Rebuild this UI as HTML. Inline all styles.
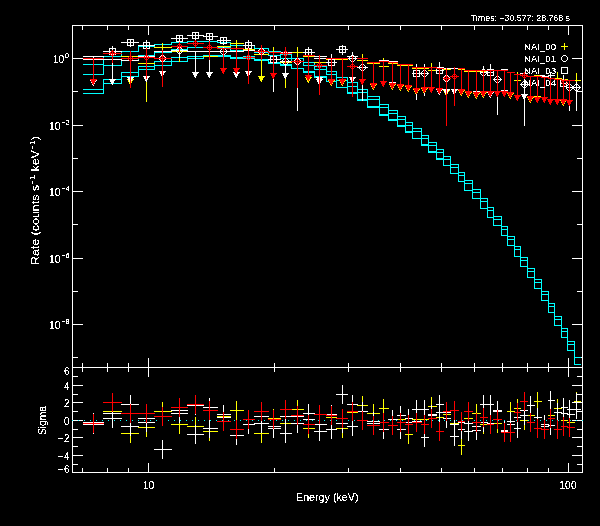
<!DOCTYPE html>
<html><head><meta charset="utf-8"><title>Spectrum</title>
<style>html,body{margin:0;padding:0;background:#000;}svg{display:block;}</style>
</head><body>
<svg width="600" height="526" viewBox="0 0 600 526" shape-rendering="crispEdges">
<rect width="600" height="526" fill="#000"/>
<g fill="#ffffff"><rect x="72" y="25" width="511" height="1"/><rect x="72" y="367" width="511" height="1"/><rect x="72" y="472" width="511" height="1"/><rect x="72" y="25" width="1" height="448"/><rect x="582" y="25" width="1" height="448"/><rect x="82" y="25" width="1" height="5"/><rect x="82" y="363" width="1" height="9"/><rect x="82" y="468" width="1" height="5"/><rect x="107" y="25" width="1" height="5"/><rect x="107" y="363" width="1" height="9"/><rect x="107" y="468" width="1" height="5"/><rect x="128" y="25" width="1" height="5"/><rect x="128" y="363" width="1" height="9"/><rect x="128" y="468" width="1" height="5"/><rect x="148" y="25" width="1" height="10"/><rect x="148" y="358" width="1" height="19"/><rect x="148" y="463" width="1" height="10"/><rect x="274" y="25" width="1" height="5"/><rect x="274" y="363" width="1" height="9"/><rect x="274" y="468" width="1" height="5"/><rect x="348" y="25" width="1" height="5"/><rect x="348" y="363" width="1" height="9"/><rect x="348" y="468" width="1" height="5"/><rect x="400" y="25" width="1" height="5"/><rect x="400" y="363" width="1" height="9"/><rect x="400" y="468" width="1" height="5"/><rect x="441" y="25" width="1" height="5"/><rect x="441" y="363" width="1" height="9"/><rect x="441" y="468" width="1" height="5"/><rect x="474" y="25" width="1" height="5"/><rect x="474" y="363" width="1" height="9"/><rect x="474" y="468" width="1" height="5"/><rect x="502" y="25" width="1" height="5"/><rect x="502" y="363" width="1" height="9"/><rect x="502" y="468" width="1" height="5"/><rect x="527" y="25" width="1" height="5"/><rect x="527" y="363" width="1" height="9"/><rect x="527" y="468" width="1" height="5"/><rect x="548" y="25" width="1" height="5"/><rect x="548" y="363" width="1" height="9"/><rect x="548" y="468" width="1" height="5"/><rect x="568" y="25" width="1" height="10"/><rect x="568" y="358" width="1" height="19"/><rect x="568" y="463" width="1" height="10"/><rect x="72" y="58" width="11" height="1"/><rect x="572" y="58" width="11" height="1"/><rect x="72" y="91" width="6" height="1"/><rect x="577" y="91" width="6" height="1"/><rect x="72" y="125" width="11" height="1"/><rect x="572" y="125" width="11" height="1"/><rect x="72" y="158" width="6" height="1"/><rect x="577" y="158" width="6" height="1"/><rect x="72" y="191" width="11" height="1"/><rect x="572" y="191" width="11" height="1"/><rect x="72" y="224" width="6" height="1"/><rect x="577" y="224" width="6" height="1"/><rect x="72" y="258" width="11" height="1"/><rect x="572" y="258" width="11" height="1"/><rect x="72" y="291" width="6" height="1"/><rect x="577" y="291" width="6" height="1"/><rect x="72" y="324" width="11" height="1"/><rect x="572" y="324" width="11" height="1"/><rect x="72" y="357" width="6" height="1"/><rect x="577" y="357" width="6" height="1"/><rect x="72" y="464" width="6" height="1"/><rect x="577" y="464" width="6" height="1"/><rect x="72" y="455" width="11" height="1"/><rect x="572" y="455" width="11" height="1"/><rect x="72" y="446" width="6" height="1"/><rect x="577" y="446" width="6" height="1"/><rect x="72" y="437" width="11" height="1"/><rect x="572" y="437" width="11" height="1"/><rect x="72" y="429" width="6" height="1"/><rect x="577" y="429" width="6" height="1"/><rect x="72" y="420" width="11" height="1"/><rect x="572" y="420" width="11" height="1"/><rect x="72" y="411" width="6" height="1"/><rect x="577" y="411" width="6" height="1"/><rect x="72" y="402" width="11" height="1"/><rect x="572" y="402" width="11" height="1"/><rect x="72" y="394" width="6" height="1"/><rect x="577" y="394" width="6" height="1"/><rect x="72" y="385" width="11" height="1"/><rect x="572" y="385" width="11" height="1"/><rect x="72" y="376" width="6" height="1"/><rect x="577" y="376" width="6" height="1"/></g>
<g fill="#00ffff"><rect x="83" y="64" width="21" height="1"/><rect x="103" y="56" width="1" height="9"/><rect x="103" y="56" width="19" height="1"/><rect x="121" y="51" width="1" height="6"/><rect x="121" y="51" width="18" height="1"/><rect x="138" y="46" width="1" height="6"/><rect x="138" y="46" width="17" height="1"/><rect x="154" y="44" width="1" height="3"/><rect x="154" y="44" width="18" height="1"/><rect x="171" y="42" width="1" height="3"/><rect x="171" y="42" width="17" height="1"/><rect x="187" y="41" width="1" height="2"/><rect x="187" y="41" width="17" height="1"/><rect x="203" y="41" width="1" height="1"/><rect x="203" y="41" width="15" height="1"/><rect x="217" y="41" width="1" height="2"/><rect x="217" y="42" width="14" height="1"/><rect x="230" y="42" width="1" height="4"/><rect x="230" y="45" width="14" height="1"/><rect x="243" y="45" width="1" height="1"/><rect x="243" y="45" width="12" height="1"/><rect x="254" y="45" width="1" height="4"/><rect x="254" y="48" width="15" height="1"/><rect x="268" y="48" width="1" height="4"/><rect x="268" y="51" width="13" height="1"/><rect x="280" y="51" width="1" height="4"/><rect x="280" y="54" width="12" height="1"/><rect x="291" y="54" width="1" height="5"/><rect x="291" y="58" width="13" height="1"/><rect x="303" y="58" width="1" height="5"/><rect x="303" y="62" width="12" height="1"/><rect x="314" y="62" width="1" height="5"/><rect x="314" y="66" width="13" height="1"/><rect x="326" y="66" width="1" height="6"/><rect x="326" y="71" width="11" height="1"/><rect x="336" y="71" width="1" height="7"/><rect x="336" y="77" width="12" height="1"/><rect x="347" y="77" width="1" height="6"/><rect x="347" y="82" width="11" height="1"/><rect x="357" y="82" width="1" height="8"/><rect x="357" y="89" width="11" height="1"/><rect x="367" y="89" width="1" height="8"/><rect x="367" y="96" width="13" height="1"/><rect x="379" y="96" width="1" height="9"/><rect x="379" y="104" width="10" height="1"/><rect x="388" y="104" width="1" height="7"/><rect x="388" y="110" width="10" height="1"/><rect x="397" y="110" width="1" height="7"/><rect x="397" y="116" width="9" height="1"/><rect x="405" y="116" width="1" height="7"/><rect x="405" y="122" width="8" height="1"/><rect x="412" y="122" width="1" height="7"/><rect x="412" y="128" width="10" height="1"/><rect x="421" y="128" width="1" height="8"/><rect x="421" y="135" width="8" height="1"/><rect x="428" y="135" width="1" height="8"/><rect x="428" y="142" width="9" height="1"/><rect x="436" y="142" width="1" height="8"/><rect x="436" y="149" width="8" height="1"/><rect x="443" y="149" width="1" height="8"/><rect x="443" y="156" width="8" height="1"/><rect x="450" y="156" width="1" height="9"/><rect x="450" y="164" width="9" height="1"/><rect x="458" y="164" width="1" height="9"/><rect x="458" y="172" width="7" height="1"/><rect x="464" y="172" width="1" height="9"/><rect x="464" y="180" width="9" height="1"/><rect x="472" y="180" width="1" height="10"/><rect x="472" y="189" width="9" height="1"/><rect x="480" y="189" width="1" height="10"/><rect x="480" y="198" width="8" height="1"/><rect x="487" y="198" width="1" height="10"/><rect x="487" y="207" width="7" height="1"/><rect x="493" y="207" width="1" height="10"/><rect x="493" y="216" width="9" height="1"/><rect x="501" y="216" width="1" height="11"/><rect x="501" y="226" width="7" height="1"/><rect x="507" y="226" width="1" height="11"/><rect x="507" y="236" width="8" height="1"/><rect x="514" y="236" width="1" height="11"/><rect x="514" y="246" width="7" height="1"/><rect x="520" y="246" width="1" height="12"/><rect x="520" y="257" width="8" height="1"/><rect x="527" y="257" width="1" height="12"/><rect x="527" y="268" width="8" height="1"/><rect x="534" y="268" width="1" height="12"/><rect x="534" y="279" width="8" height="1"/><rect x="541" y="279" width="1" height="13"/><rect x="541" y="291" width="8" height="1"/><rect x="548" y="291" width="1" height="13"/><rect x="548" y="303" width="7" height="1"/><rect x="554" y="303" width="1" height="14"/><rect x="554" y="316" width="8" height="1"/><rect x="561" y="316" width="1" height="13"/><rect x="561" y="328" width="7" height="1"/><rect x="567" y="328" width="1" height="14"/><rect x="567" y="341" width="8" height="1"/><rect x="574" y="341" width="1" height="17"/><rect x="574" y="357" width="7" height="1"/><rect x="83" y="74" width="21" height="1"/><rect x="103" y="65" width="1" height="10"/><rect x="103" y="65" width="19" height="1"/><rect x="121" y="60" width="1" height="6"/><rect x="121" y="60" width="18" height="1"/><rect x="138" y="55" width="1" height="6"/><rect x="138" y="55" width="17" height="1"/><rect x="154" y="52" width="1" height="4"/><rect x="154" y="52" width="18" height="1"/><rect x="171" y="49" width="1" height="4"/><rect x="171" y="49" width="17" height="1"/><rect x="187" y="47" width="1" height="3"/><rect x="187" y="47" width="17" height="1"/><rect x="203" y="47" width="1" height="1"/><rect x="203" y="47" width="15" height="1"/><rect x="217" y="47" width="1" height="1"/><rect x="217" y="47" width="14" height="1"/><rect x="230" y="47" width="1" height="4"/><rect x="230" y="50" width="14" height="1"/><rect x="243" y="49" width="1" height="2"/><rect x="243" y="49" width="12" height="1"/><rect x="254" y="49" width="1" height="4"/><rect x="254" y="52" width="15" height="1"/><rect x="268" y="52" width="1" height="4"/><rect x="268" y="55" width="13" height="1"/><rect x="280" y="55" width="1" height="4"/><rect x="280" y="58" width="12" height="1"/><rect x="291" y="58" width="1" height="4"/><rect x="291" y="61" width="13" height="1"/><rect x="303" y="61" width="1" height="5"/><rect x="303" y="65" width="12" height="1"/><rect x="314" y="65" width="1" height="5"/><rect x="314" y="69" width="13" height="1"/><rect x="326" y="69" width="1" height="6"/><rect x="326" y="74" width="11" height="1"/><rect x="336" y="74" width="1" height="7"/><rect x="336" y="80" width="12" height="1"/><rect x="347" y="80" width="1" height="7"/><rect x="347" y="86" width="11" height="1"/><rect x="357" y="86" width="1" height="7"/><rect x="357" y="92" width="11" height="1"/><rect x="367" y="92" width="1" height="8"/><rect x="367" y="99" width="13" height="1"/><rect x="379" y="99" width="1" height="9"/><rect x="379" y="107" width="10" height="1"/><rect x="388" y="107" width="1" height="7"/><rect x="388" y="113" width="10" height="1"/><rect x="397" y="113" width="1" height="7"/><rect x="397" y="119" width="9" height="1"/><rect x="405" y="119" width="1" height="7"/><rect x="405" y="125" width="8" height="1"/><rect x="412" y="125" width="1" height="7"/><rect x="412" y="131" width="10" height="1"/><rect x="421" y="131" width="1" height="8"/><rect x="421" y="138" width="8" height="1"/><rect x="428" y="138" width="1" height="8"/><rect x="428" y="145" width="9" height="1"/><rect x="436" y="145" width="1" height="8"/><rect x="436" y="152" width="8" height="1"/><rect x="443" y="152" width="1" height="8"/><rect x="443" y="159" width="8" height="1"/><rect x="450" y="159" width="1" height="9"/><rect x="450" y="167" width="9" height="1"/><rect x="458" y="167" width="1" height="9"/><rect x="458" y="175" width="7" height="1"/><rect x="464" y="175" width="1" height="9"/><rect x="464" y="183" width="9" height="1"/><rect x="472" y="183" width="1" height="10"/><rect x="472" y="192" width="9" height="1"/><rect x="480" y="192" width="1" height="10"/><rect x="480" y="201" width="8" height="1"/><rect x="487" y="201" width="1" height="10"/><rect x="487" y="210" width="7" height="1"/><rect x="493" y="210" width="1" height="10"/><rect x="493" y="219" width="9" height="1"/><rect x="501" y="219" width="1" height="11"/><rect x="501" y="229" width="7" height="1"/><rect x="507" y="229" width="1" height="11"/><rect x="507" y="239" width="8" height="1"/><rect x="514" y="239" width="1" height="11"/><rect x="514" y="249" width="7" height="1"/><rect x="520" y="249" width="1" height="12"/><rect x="520" y="260" width="8" height="1"/><rect x="527" y="260" width="1" height="12"/><rect x="527" y="271" width="8" height="1"/><rect x="534" y="271" width="1" height="12"/><rect x="534" y="282" width="8" height="1"/><rect x="541" y="282" width="1" height="13"/><rect x="541" y="294" width="8" height="1"/><rect x="548" y="294" width="1" height="13"/><rect x="548" y="306" width="7" height="1"/><rect x="554" y="306" width="1" height="14"/><rect x="554" y="319" width="8" height="1"/><rect x="561" y="319" width="1" height="13"/><rect x="561" y="331" width="7" height="1"/><rect x="567" y="331" width="1" height="14"/><rect x="567" y="344" width="8" height="1"/><rect x="574" y="344" width="1" height="14"/><rect x="574" y="357" width="7" height="1"/><rect x="83" y="89" width="21" height="1"/><rect x="103" y="79" width="1" height="11"/><rect x="103" y="79" width="19" height="1"/><rect x="121" y="72" width="1" height="8"/><rect x="121" y="72" width="18" height="1"/><rect x="138" y="66" width="1" height="7"/><rect x="138" y="66" width="17" height="1"/><rect x="154" y="61" width="1" height="6"/><rect x="154" y="61" width="18" height="1"/><rect x="171" y="57" width="1" height="5"/><rect x="171" y="57" width="17" height="1"/><rect x="187" y="56" width="1" height="2"/><rect x="187" y="56" width="17" height="1"/><rect x="203" y="55" width="1" height="2"/><rect x="203" y="55" width="15" height="1"/><rect x="217" y="55" width="1" height="1"/><rect x="217" y="55" width="14" height="1"/><rect x="230" y="55" width="1" height="3"/><rect x="230" y="57" width="14" height="1"/><rect x="243" y="56" width="1" height="2"/><rect x="243" y="56" width="12" height="1"/><rect x="254" y="56" width="1" height="4"/><rect x="254" y="59" width="15" height="1"/><rect x="268" y="59" width="1" height="4"/><rect x="268" y="62" width="13" height="1"/><rect x="280" y="62" width="1" height="3"/><rect x="280" y="64" width="12" height="1"/><rect x="291" y="64" width="1" height="5"/><rect x="291" y="68" width="13" height="1"/><rect x="303" y="68" width="1" height="4"/><rect x="303" y="71" width="12" height="1"/><rect x="314" y="71" width="1" height="6"/><rect x="314" y="76" width="13" height="1"/><rect x="326" y="76" width="1" height="6"/><rect x="326" y="81" width="11" height="1"/><rect x="336" y="81" width="1" height="7"/><rect x="336" y="87" width="12" height="1"/><rect x="347" y="87" width="1" height="6"/><rect x="347" y="92" width="11" height="1"/><rect x="357" y="92" width="1" height="8"/><rect x="357" y="99" width="11" height="1"/><rect x="367" y="99" width="1" height="8"/><rect x="367" y="106" width="13" height="1"/><rect x="379" y="106" width="1" height="9"/><rect x="379" y="114" width="10" height="1"/><rect x="388" y="114" width="1" height="6"/><rect x="388" y="119" width="10" height="1"/><rect x="397" y="119" width="1" height="7"/><rect x="397" y="125" width="9" height="1"/><rect x="405" y="125" width="1" height="7"/><rect x="405" y="131" width="8" height="1"/><rect x="412" y="131" width="1" height="8"/><rect x="412" y="138" width="10" height="1"/><rect x="421" y="138" width="1" height="7"/><rect x="421" y="144" width="8" height="1"/><rect x="428" y="144" width="1" height="8"/><rect x="428" y="151" width="9" height="1"/><rect x="436" y="151" width="1" height="8"/><rect x="436" y="158" width="8" height="1"/><rect x="443" y="158" width="1" height="8"/><rect x="443" y="165" width="8" height="1"/><rect x="450" y="165" width="1" height="9"/><rect x="450" y="173" width="9" height="1"/><rect x="458" y="173" width="1" height="9"/><rect x="458" y="181" width="7" height="1"/><rect x="464" y="181" width="1" height="10"/><rect x="464" y="190" width="9" height="1"/><rect x="472" y="190" width="1" height="9"/><rect x="472" y="198" width="9" height="1"/><rect x="480" y="198" width="1" height="11"/><rect x="480" y="208" width="8" height="1"/><rect x="487" y="208" width="1" height="10"/><rect x="487" y="217" width="7" height="1"/><rect x="493" y="217" width="1" height="9"/><rect x="493" y="225" width="9" height="1"/><rect x="501" y="225" width="1" height="11"/><rect x="501" y="235" width="7" height="1"/><rect x="507" y="235" width="1" height="11"/><rect x="507" y="245" width="8" height="1"/><rect x="514" y="245" width="1" height="12"/><rect x="514" y="256" width="7" height="1"/><rect x="520" y="256" width="1" height="11"/><rect x="520" y="266" width="8" height="1"/><rect x="527" y="266" width="1" height="12"/><rect x="527" y="277" width="8" height="1"/><rect x="534" y="277" width="1" height="12"/><rect x="534" y="288" width="8" height="1"/><rect x="541" y="288" width="1" height="13"/><rect x="541" y="300" width="8" height="1"/><rect x="548" y="300" width="1" height="13"/><rect x="548" y="312" width="7" height="1"/><rect x="554" y="312" width="1" height="14"/><rect x="554" y="325" width="8" height="1"/><rect x="561" y="325" width="1" height="13"/><rect x="561" y="337" width="7" height="1"/><rect x="567" y="337" width="1" height="14"/><rect x="567" y="350" width="8" height="1"/><rect x="574" y="350" width="1" height="15"/><rect x="574" y="364" width="7" height="1"/><rect x="83" y="93" width="21" height="1"/><rect x="103" y="83" width="1" height="11"/><rect x="103" y="83" width="19" height="1"/><rect x="121" y="76" width="1" height="8"/><rect x="121" y="76" width="18" height="1"/><rect x="138" y="69" width="1" height="8"/><rect x="138" y="69" width="17" height="1"/><rect x="154" y="65" width="1" height="5"/><rect x="154" y="65" width="18" height="1"/><rect x="171" y="61" width="1" height="5"/><rect x="171" y="61" width="17" height="1"/><rect x="187" y="58" width="1" height="4"/><rect x="187" y="58" width="17" height="1"/><rect x="203" y="56" width="1" height="3"/><rect x="203" y="56" width="15" height="1"/><rect x="217" y="56" width="1" height="1"/><rect x="217" y="56" width="14" height="1"/><rect x="230" y="56" width="1" height="3"/><rect x="230" y="58" width="14" height="1"/><rect x="243" y="58" width="1" height="1"/><rect x="243" y="58" width="12" height="1"/><rect x="254" y="58" width="1" height="3"/><rect x="254" y="60" width="15" height="1"/><rect x="268" y="60" width="1" height="4"/><rect x="268" y="63" width="13" height="1"/><rect x="280" y="63" width="1" height="3"/><rect x="280" y="65" width="12" height="1"/><rect x="291" y="65" width="1" height="4"/><rect x="291" y="68" width="13" height="1"/><rect x="303" y="68" width="1" height="5"/><rect x="303" y="72" width="12" height="1"/><rect x="314" y="72" width="1" height="6"/><rect x="314" y="77" width="13" height="1"/><rect x="326" y="77" width="1" height="5"/><rect x="326" y="81" width="11" height="1"/><rect x="336" y="81" width="1" height="7"/><rect x="336" y="87" width="12" height="1"/><rect x="347" y="87" width="1" height="7"/><rect x="347" y="93" width="11" height="1"/><rect x="357" y="93" width="1" height="8"/><rect x="357" y="100" width="11" height="1"/><rect x="367" y="100" width="1" height="8"/><rect x="367" y="107" width="13" height="1"/><rect x="379" y="107" width="1" height="9"/><rect x="379" y="115" width="10" height="1"/><rect x="388" y="115" width="1" height="6"/><rect x="388" y="120" width="10" height="1"/><rect x="397" y="120" width="1" height="7"/><rect x="397" y="126" width="9" height="1"/><rect x="405" y="126" width="1" height="7"/><rect x="405" y="132" width="8" height="1"/><rect x="412" y="132" width="1" height="7"/><rect x="412" y="138" width="10" height="1"/><rect x="421" y="138" width="1" height="8"/><rect x="421" y="145" width="8" height="1"/><rect x="428" y="145" width="1" height="8"/><rect x="428" y="152" width="9" height="1"/><rect x="436" y="152" width="1" height="8"/><rect x="436" y="159" width="8" height="1"/><rect x="443" y="159" width="1" height="7"/><rect x="443" y="165" width="8" height="1"/><rect x="450" y="165" width="1" height="9"/><rect x="450" y="173" width="9" height="1"/><rect x="458" y="173" width="1" height="9"/><rect x="458" y="181" width="7" height="1"/><rect x="464" y="181" width="1" height="10"/><rect x="464" y="190" width="9" height="1"/><rect x="472" y="190" width="1" height="9"/><rect x="472" y="198" width="9" height="1"/><rect x="480" y="198" width="1" height="11"/><rect x="480" y="208" width="8" height="1"/><rect x="487" y="208" width="1" height="10"/><rect x="487" y="217" width="7" height="1"/><rect x="493" y="217" width="1" height="9"/><rect x="493" y="225" width="9" height="1"/><rect x="501" y="225" width="1" height="11"/><rect x="501" y="235" width="7" height="1"/><rect x="507" y="235" width="1" height="11"/><rect x="507" y="245" width="8" height="1"/><rect x="514" y="245" width="1" height="12"/><rect x="514" y="256" width="7" height="1"/><rect x="520" y="256" width="1" height="11"/><rect x="520" y="266" width="8" height="1"/><rect x="527" y="266" width="1" height="12"/><rect x="527" y="277" width="8" height="1"/><rect x="534" y="277" width="1" height="12"/><rect x="534" y="288" width="8" height="1"/><rect x="541" y="288" width="1" height="13"/><rect x="541" y="300" width="8" height="1"/><rect x="548" y="300" width="1" height="13"/><rect x="548" y="312" width="7" height="1"/><rect x="554" y="312" width="1" height="14"/><rect x="554" y="325" width="8" height="1"/><rect x="561" y="325" width="1" height="13"/><rect x="561" y="337" width="7" height="1"/><rect x="567" y="337" width="1" height="14"/><rect x="567" y="350" width="8" height="1"/><rect x="574" y="350" width="1" height="15"/><rect x="574" y="364" width="7" height="1"/></g>
<g fill="#ffff00"><rect x="121" y="56" width="18" height="1"/><rect x="130" y="56" width="1" height="29"/><rect x="127" y="79" width="7" height="1"/><rect x="128" y="80" width="5" height="1"/><rect x="128" y="81" width="4" height="1"/><rect x="129" y="82" width="3" height="1"/><rect x="129" y="83" width="2" height="1"/><rect x="130" y="84" width="1" height="1"/><rect x="138" y="63" width="17" height="1"/><rect x="146" y="50" width="1" height="52"/><rect x="154" y="47" width="18" height="1"/><rect x="162" y="43" width="1" height="11"/><rect x="171" y="51" width="17" height="1"/><rect x="179" y="45" width="1" height="17"/><rect x="187" y="51" width="17" height="1"/><rect x="195" y="51" width="1" height="27"/><rect x="192" y="72" width="7" height="1"/><rect x="193" y="73" width="5" height="1"/><rect x="193" y="74" width="4" height="1"/><rect x="194" y="75" width="3" height="1"/><rect x="194" y="76" width="2" height="1"/><rect x="195" y="77" width="1" height="1"/><rect x="203" y="56" width="15" height="1"/><rect x="209" y="53" width="1" height="7"/><rect x="217" y="46" width="14" height="1"/><rect x="223" y="46" width="1" height="28"/><rect x="220" y="68" width="7" height="1"/><rect x="221" y="69" width="5" height="1"/><rect x="221" y="70" width="4" height="1"/><rect x="222" y="71" width="3" height="1"/><rect x="222" y="72" width="2" height="1"/><rect x="223" y="73" width="1" height="1"/><rect x="230" y="43" width="14" height="1"/><rect x="236" y="40" width="1" height="9"/><rect x="243" y="49" width="12" height="1"/><rect x="248" y="49" width="1" height="28"/><rect x="245" y="71" width="7" height="1"/><rect x="246" y="72" width="5" height="1"/><rect x="246" y="73" width="4" height="1"/><rect x="247" y="74" width="3" height="1"/><rect x="247" y="75" width="2" height="1"/><rect x="248" y="76" width="1" height="1"/><rect x="254" y="54" width="15" height="1"/><rect x="261" y="54" width="1" height="28"/><rect x="258" y="76" width="7" height="1"/><rect x="259" y="77" width="5" height="1"/><rect x="259" y="78" width="4" height="1"/><rect x="260" y="79" width="3" height="1"/><rect x="260" y="80" width="2" height="1"/><rect x="261" y="81" width="1" height="1"/><rect x="268" y="52" width="13" height="1"/><rect x="273" y="47" width="1" height="11"/><rect x="280" y="62" width="12" height="1"/><rect x="285" y="50" width="1" height="38"/><rect x="291" y="52" width="13" height="1"/><rect x="297" y="47" width="1" height="11"/><rect x="303" y="56" width="12" height="1"/><rect x="308" y="56" width="1" height="27"/><rect x="305" y="77" width="7" height="1"/><rect x="306" y="78" width="5" height="1"/><rect x="306" y="79" width="4" height="1"/><rect x="307" y="80" width="3" height="1"/><rect x="307" y="81" width="2" height="1"/><rect x="308" y="82" width="1" height="1"/><rect x="314" y="62" width="13" height="1"/><rect x="319" y="58" width="1" height="9"/><rect x="326" y="59" width="11" height="1"/><rect x="331" y="59" width="1" height="27"/><rect x="328" y="80" width="7" height="1"/><rect x="329" y="81" width="5" height="1"/><rect x="329" y="82" width="4" height="1"/><rect x="330" y="83" width="3" height="1"/><rect x="330" y="84" width="2" height="1"/><rect x="331" y="85" width="1" height="1"/><rect x="336" y="59" width="12" height="1"/><rect x="342" y="59" width="1" height="27"/><rect x="339" y="80" width="7" height="1"/><rect x="340" y="81" width="5" height="1"/><rect x="340" y="82" width="4" height="1"/><rect x="341" y="83" width="3" height="1"/><rect x="341" y="84" width="2" height="1"/><rect x="342" y="85" width="1" height="1"/><rect x="357" y="60" width="11" height="1"/><rect x="362" y="54" width="1" height="13"/><rect x="367" y="63" width="13" height="1"/><rect x="373" y="63" width="1" height="27"/><rect x="370" y="84" width="7" height="1"/><rect x="371" y="85" width="5" height="1"/><rect x="371" y="86" width="4" height="1"/><rect x="372" y="87" width="3" height="1"/><rect x="372" y="88" width="2" height="1"/><rect x="373" y="89" width="1" height="1"/><rect x="379" y="66" width="10" height="1"/><rect x="383" y="58" width="1" height="18"/><rect x="388" y="63" width="10" height="1"/><rect x="392" y="63" width="1" height="27"/><rect x="389" y="84" width="7" height="1"/><rect x="390" y="85" width="5" height="1"/><rect x="390" y="86" width="4" height="1"/><rect x="391" y="87" width="3" height="1"/><rect x="391" y="88" width="2" height="1"/><rect x="392" y="89" width="1" height="1"/><rect x="397" y="65" width="9" height="1"/><rect x="400" y="65" width="1" height="26"/><rect x="397" y="85" width="7" height="1"/><rect x="398" y="86" width="5" height="1"/><rect x="398" y="87" width="4" height="1"/><rect x="399" y="88" width="3" height="1"/><rect x="399" y="89" width="2" height="1"/><rect x="400" y="90" width="1" height="1"/><rect x="405" y="65" width="8" height="1"/><rect x="408" y="65" width="1" height="27"/><rect x="405" y="86" width="7" height="1"/><rect x="406" y="87" width="5" height="1"/><rect x="406" y="88" width="4" height="1"/><rect x="407" y="89" width="3" height="1"/><rect x="407" y="90" width="2" height="1"/><rect x="408" y="91" width="1" height="1"/><rect x="412" y="68" width="10" height="1"/><rect x="416" y="68" width="1" height="27"/><rect x="413" y="89" width="7" height="1"/><rect x="414" y="90" width="5" height="1"/><rect x="414" y="91" width="4" height="1"/><rect x="415" y="92" width="3" height="1"/><rect x="415" y="93" width="2" height="1"/><rect x="416" y="94" width="1" height="1"/><rect x="421" y="68" width="8" height="1"/><rect x="424" y="68" width="1" height="26"/><rect x="421" y="88" width="7" height="1"/><rect x="422" y="89" width="5" height="1"/><rect x="422" y="90" width="4" height="1"/><rect x="423" y="91" width="3" height="1"/><rect x="423" y="92" width="2" height="1"/><rect x="424" y="93" width="1" height="1"/><rect x="428" y="70" width="9" height="1"/><rect x="431" y="63" width="1" height="16"/><rect x="443" y="69" width="8" height="1"/><rect x="446" y="69" width="1" height="27"/><rect x="443" y="90" width="7" height="1"/><rect x="444" y="91" width="5" height="1"/><rect x="444" y="92" width="4" height="1"/><rect x="445" y="93" width="3" height="1"/><rect x="445" y="94" width="2" height="1"/><rect x="446" y="95" width="1" height="1"/><rect x="458" y="69" width="7" height="1"/><rect x="461" y="69" width="1" height="27"/><rect x="458" y="90" width="7" height="1"/><rect x="459" y="91" width="5" height="1"/><rect x="459" y="92" width="4" height="1"/><rect x="460" y="93" width="3" height="1"/><rect x="460" y="94" width="2" height="1"/><rect x="461" y="95" width="1" height="1"/><rect x="464" y="71" width="9" height="1"/><rect x="468" y="71" width="1" height="27"/><rect x="465" y="92" width="7" height="1"/><rect x="466" y="93" width="5" height="1"/><rect x="466" y="94" width="4" height="1"/><rect x="467" y="95" width="3" height="1"/><rect x="467" y="96" width="2" height="1"/><rect x="468" y="97" width="1" height="1"/><rect x="472" y="71" width="9" height="1"/><rect x="476" y="71" width="1" height="28"/><rect x="473" y="93" width="7" height="1"/><rect x="474" y="94" width="5" height="1"/><rect x="474" y="95" width="4" height="1"/><rect x="475" y="96" width="3" height="1"/><rect x="475" y="97" width="2" height="1"/><rect x="476" y="98" width="1" height="1"/><rect x="480" y="71" width="8" height="1"/><rect x="483" y="71" width="1" height="27"/><rect x="480" y="92" width="7" height="1"/><rect x="481" y="93" width="5" height="1"/><rect x="481" y="94" width="4" height="1"/><rect x="482" y="95" width="3" height="1"/><rect x="482" y="96" width="2" height="1"/><rect x="483" y="97" width="1" height="1"/><rect x="507" y="72" width="8" height="1"/><rect x="510" y="72" width="1" height="27"/><rect x="507" y="93" width="7" height="1"/><rect x="508" y="94" width="5" height="1"/><rect x="508" y="95" width="4" height="1"/><rect x="509" y="96" width="3" height="1"/><rect x="509" y="97" width="2" height="1"/><rect x="510" y="98" width="1" height="1"/><rect x="514" y="80" width="7" height="1"/><rect x="517" y="72" width="1" height="19"/><rect x="527" y="76" width="8" height="1"/><rect x="530" y="76" width="1" height="27"/><rect x="527" y="97" width="7" height="1"/><rect x="528" y="98" width="5" height="1"/><rect x="528" y="99" width="4" height="1"/><rect x="529" y="100" width="3" height="1"/><rect x="529" y="101" width="2" height="1"/><rect x="530" y="102" width="1" height="1"/><rect x="534" y="75" width="8" height="1"/><rect x="537" y="75" width="1" height="27"/><rect x="534" y="96" width="7" height="1"/><rect x="535" y="97" width="5" height="1"/><rect x="535" y="98" width="4" height="1"/><rect x="536" y="99" width="3" height="1"/><rect x="536" y="100" width="2" height="1"/><rect x="537" y="101" width="1" height="1"/><rect x="554" y="78" width="8" height="1"/><rect x="557" y="72" width="1" height="15"/><rect x="561" y="79" width="7" height="1"/><rect x="563" y="79" width="1" height="27"/><rect x="560" y="100" width="7" height="1"/><rect x="561" y="101" width="5" height="1"/><rect x="561" y="102" width="4" height="1"/><rect x="562" y="103" width="3" height="1"/><rect x="562" y="104" width="2" height="1"/><rect x="563" y="105" width="1" height="1"/><rect x="574" y="80" width="7" height="1"/><rect x="576" y="73" width="1" height="14"/></g>
<g fill="#ffffff"><rect x="83" y="56" width="21" height="1"/><rect x="93" y="56" width="1" height="30"/><rect x="90" y="80" width="7" height="1"/><rect x="91" y="81" width="5" height="1"/><rect x="91" y="82" width="4" height="1"/><rect x="92" y="83" width="3" height="1"/><rect x="92" y="84" width="2" height="1"/><rect x="93" y="85" width="1" height="1"/><rect x="103" y="59" width="19" height="1"/><rect x="112" y="59" width="1" height="26"/><rect x="109" y="79" width="7" height="1"/><rect x="110" y="80" width="5" height="1"/><rect x="110" y="81" width="4" height="1"/><rect x="111" y="82" width="3" height="1"/><rect x="111" y="83" width="2" height="1"/><rect x="112" y="84" width="1" height="1"/><rect x="121" y="60" width="18" height="1"/><rect x="130" y="60" width="1" height="23"/><rect x="127" y="77" width="7" height="1"/><rect x="128" y="78" width="5" height="1"/><rect x="128" y="79" width="4" height="1"/><rect x="129" y="80" width="3" height="1"/><rect x="129" y="81" width="2" height="1"/><rect x="130" y="82" width="1" height="1"/><rect x="138" y="56" width="17" height="1"/><rect x="146" y="56" width="1" height="26"/><rect x="143" y="76" width="7" height="1"/><rect x="144" y="77" width="5" height="1"/><rect x="144" y="78" width="4" height="1"/><rect x="145" y="79" width="3" height="1"/><rect x="145" y="80" width="2" height="1"/><rect x="146" y="81" width="1" height="1"/><rect x="154" y="58" width="18" height="1"/><rect x="162" y="53" width="1" height="14"/><g fill="#ffffff"><rect x="161" y="55" width="3" height="1"/><rect x="160" y="56" width="1" height="1"/><rect x="164" y="56" width="1" height="1"/><rect x="159" y="57" width="1" height="1"/><rect x="165" y="57" width="1" height="1"/><rect x="159" y="58" width="1" height="1"/><rect x="165" y="58" width="1" height="1"/><rect x="159" y="59" width="1" height="1"/><rect x="165" y="59" width="1" height="1"/><rect x="160" y="60" width="1" height="1"/><rect x="164" y="60" width="1" height="1"/><rect x="161" y="61" width="3" height="1"/></g><rect x="171" y="50" width="17" height="1"/><rect x="179" y="46" width="1" height="12"/><g fill="#ffffff"><rect x="178" y="47" width="3" height="1"/><rect x="177" y="48" width="1" height="1"/><rect x="181" y="48" width="1" height="1"/><rect x="176" y="49" width="1" height="1"/><rect x="182" y="49" width="1" height="1"/><rect x="176" y="50" width="1" height="1"/><rect x="182" y="50" width="1" height="1"/><rect x="176" y="51" width="1" height="1"/><rect x="182" y="51" width="1" height="1"/><rect x="177" y="52" width="1" height="1"/><rect x="181" y="52" width="1" height="1"/><rect x="178" y="53" width="3" height="1"/></g><rect x="187" y="51" width="17" height="1"/><rect x="195" y="51" width="1" height="27"/><rect x="192" y="72" width="7" height="1"/><rect x="193" y="73" width="5" height="1"/><rect x="193" y="74" width="4" height="1"/><rect x="194" y="75" width="3" height="1"/><rect x="194" y="76" width="2" height="1"/><rect x="195" y="77" width="1" height="1"/><rect x="203" y="51" width="15" height="1"/><rect x="209" y="51" width="1" height="27"/><rect x="206" y="72" width="7" height="1"/><rect x="207" y="73" width="5" height="1"/><rect x="207" y="74" width="4" height="1"/><rect x="208" y="75" width="3" height="1"/><rect x="208" y="76" width="2" height="1"/><rect x="209" y="77" width="1" height="1"/><rect x="217" y="51" width="14" height="1"/><rect x="223" y="47" width="1" height="10"/><g fill="#ffffff"><rect x="222" y="48" width="3" height="1"/><rect x="221" y="49" width="1" height="1"/><rect x="225" y="49" width="1" height="1"/><rect x="220" y="50" width="1" height="1"/><rect x="226" y="50" width="1" height="1"/><rect x="220" y="51" width="1" height="1"/><rect x="226" y="51" width="1" height="1"/><rect x="220" y="52" width="1" height="1"/><rect x="226" y="52" width="1" height="1"/><rect x="221" y="53" width="1" height="1"/><rect x="225" y="53" width="1" height="1"/><rect x="222" y="54" width="3" height="1"/></g><rect x="230" y="51" width="14" height="1"/><rect x="236" y="51" width="1" height="27"/><rect x="233" y="72" width="7" height="1"/><rect x="234" y="73" width="5" height="1"/><rect x="234" y="74" width="4" height="1"/><rect x="235" y="75" width="3" height="1"/><rect x="235" y="76" width="2" height="1"/><rect x="236" y="77" width="1" height="1"/><rect x="243" y="50" width="12" height="1"/><rect x="248" y="50" width="1" height="27"/><rect x="245" y="71" width="7" height="1"/><rect x="246" y="72" width="5" height="1"/><rect x="246" y="73" width="4" height="1"/><rect x="247" y="74" width="3" height="1"/><rect x="247" y="75" width="2" height="1"/><rect x="248" y="76" width="1" height="1"/><rect x="254" y="51" width="15" height="1"/><rect x="261" y="46" width="1" height="12"/><g fill="#ffffff"><rect x="260" y="48" width="3" height="1"/><rect x="259" y="49" width="1" height="1"/><rect x="263" y="49" width="1" height="1"/><rect x="258" y="50" width="1" height="1"/><rect x="264" y="50" width="1" height="1"/><rect x="258" y="51" width="1" height="1"/><rect x="264" y="51" width="1" height="1"/><rect x="258" y="52" width="1" height="1"/><rect x="264" y="52" width="1" height="1"/><rect x="259" y="53" width="1" height="1"/><rect x="263" y="53" width="1" height="1"/><rect x="260" y="54" width="3" height="1"/></g><rect x="280" y="61" width="12" height="1"/><rect x="285" y="57" width="1" height="10"/><g fill="#ffffff"><rect x="284" y="58" width="3" height="1"/><rect x="283" y="59" width="1" height="1"/><rect x="287" y="59" width="1" height="1"/><rect x="282" y="60" width="1" height="1"/><rect x="288" y="60" width="1" height="1"/><rect x="282" y="61" width="1" height="1"/><rect x="288" y="61" width="1" height="1"/><rect x="282" y="62" width="1" height="1"/><rect x="288" y="62" width="1" height="1"/><rect x="283" y="63" width="1" height="1"/><rect x="287" y="63" width="1" height="1"/><rect x="284" y="64" width="3" height="1"/></g><rect x="291" y="61" width="13" height="1"/><rect x="297" y="57" width="1" height="54"/><g fill="#ffffff"><rect x="296" y="58" width="3" height="1"/><rect x="295" y="59" width="1" height="1"/><rect x="299" y="59" width="1" height="1"/><rect x="294" y="60" width="1" height="1"/><rect x="300" y="60" width="1" height="1"/><rect x="294" y="61" width="1" height="1"/><rect x="300" y="61" width="1" height="1"/><rect x="294" y="62" width="1" height="1"/><rect x="300" y="62" width="1" height="1"/><rect x="295" y="63" width="1" height="1"/><rect x="299" y="63" width="1" height="1"/><rect x="296" y="64" width="3" height="1"/></g><rect x="314" y="56" width="13" height="1"/><rect x="319" y="56" width="1" height="27"/><rect x="316" y="77" width="7" height="1"/><rect x="317" y="78" width="5" height="1"/><rect x="317" y="79" width="4" height="1"/><rect x="318" y="80" width="3" height="1"/><rect x="318" y="81" width="2" height="1"/><rect x="319" y="82" width="1" height="1"/><rect x="347" y="58" width="11" height="1"/><rect x="352" y="52" width="1" height="14"/><g fill="#ffffff"><rect x="351" y="55" width="3" height="1"/><rect x="350" y="56" width="1" height="1"/><rect x="354" y="56" width="1" height="1"/><rect x="349" y="57" width="1" height="1"/><rect x="355" y="57" width="1" height="1"/><rect x="349" y="58" width="1" height="1"/><rect x="355" y="58" width="1" height="1"/><rect x="349" y="59" width="1" height="1"/><rect x="355" y="59" width="1" height="1"/><rect x="350" y="60" width="1" height="1"/><rect x="354" y="60" width="1" height="1"/><rect x="351" y="61" width="3" height="1"/></g><rect x="357" y="67" width="11" height="1"/><rect x="362" y="60" width="1" height="41"/><g fill="#ffffff"><rect x="361" y="64" width="3" height="1"/><rect x="360" y="65" width="1" height="1"/><rect x="364" y="65" width="1" height="1"/><rect x="359" y="66" width="1" height="1"/><rect x="365" y="66" width="1" height="1"/><rect x="359" y="67" width="1" height="1"/><rect x="365" y="67" width="1" height="1"/><rect x="359" y="68" width="1" height="1"/><rect x="365" y="68" width="1" height="1"/><rect x="360" y="69" width="1" height="1"/><rect x="364" y="69" width="1" height="1"/><rect x="361" y="70" width="3" height="1"/></g><rect x="388" y="61" width="10" height="1"/><rect x="392" y="61" width="1" height="27"/><rect x="389" y="82" width="7" height="1"/><rect x="390" y="83" width="5" height="1"/><rect x="390" y="84" width="4" height="1"/><rect x="391" y="85" width="3" height="1"/><rect x="391" y="86" width="2" height="1"/><rect x="392" y="87" width="1" height="1"/><rect x="421" y="73" width="8" height="1"/><rect x="424" y="64" width="1" height="32"/><g fill="#ffffff"><rect x="423" y="70" width="3" height="1"/><rect x="422" y="71" width="1" height="1"/><rect x="426" y="71" width="1" height="1"/><rect x="421" y="72" width="1" height="1"/><rect x="427" y="72" width="1" height="1"/><rect x="421" y="73" width="1" height="1"/><rect x="427" y="73" width="1" height="1"/><rect x="421" y="74" width="1" height="1"/><rect x="427" y="74" width="1" height="1"/><rect x="422" y="75" width="1" height="1"/><rect x="426" y="75" width="1" height="1"/><rect x="423" y="76" width="3" height="1"/></g><rect x="436" y="67" width="8" height="1"/><rect x="439" y="67" width="1" height="28"/><rect x="436" y="89" width="7" height="1"/><rect x="437" y="90" width="5" height="1"/><rect x="437" y="91" width="4" height="1"/><rect x="438" y="92" width="3" height="1"/><rect x="438" y="93" width="2" height="1"/><rect x="439" y="94" width="1" height="1"/><rect x="443" y="78" width="8" height="1"/><rect x="446" y="70" width="1" height="21"/><g fill="#ffffff"><rect x="445" y="75" width="3" height="1"/><rect x="444" y="76" width="1" height="1"/><rect x="448" y="76" width="1" height="1"/><rect x="443" y="77" width="1" height="1"/><rect x="449" y="77" width="1" height="1"/><rect x="443" y="78" width="1" height="1"/><rect x="449" y="78" width="1" height="1"/><rect x="443" y="79" width="1" height="1"/><rect x="449" y="79" width="1" height="1"/><rect x="444" y="80" width="1" height="1"/><rect x="448" y="80" width="1" height="1"/><rect x="445" y="81" width="3" height="1"/></g><rect x="450" y="68" width="9" height="1"/><rect x="454" y="68" width="1" height="27"/><rect x="451" y="89" width="7" height="1"/><rect x="452" y="90" width="5" height="1"/><rect x="452" y="91" width="4" height="1"/><rect x="453" y="92" width="3" height="1"/><rect x="453" y="93" width="2" height="1"/><rect x="454" y="94" width="1" height="1"/><rect x="464" y="70" width="9" height="1"/><rect x="468" y="70" width="1" height="27"/><rect x="465" y="91" width="7" height="1"/><rect x="466" y="92" width="5" height="1"/><rect x="466" y="93" width="4" height="1"/><rect x="467" y="94" width="3" height="1"/><rect x="467" y="95" width="2" height="1"/><rect x="468" y="96" width="1" height="1"/><rect x="472" y="70" width="9" height="1"/><rect x="476" y="70" width="1" height="27"/><rect x="473" y="91" width="7" height="1"/><rect x="474" y="92" width="5" height="1"/><rect x="474" y="93" width="4" height="1"/><rect x="475" y="94" width="3" height="1"/><rect x="475" y="95" width="2" height="1"/><rect x="476" y="96" width="1" height="1"/><rect x="480" y="72" width="8" height="1"/><rect x="483" y="66" width="1" height="15"/><g fill="#ffffff"><rect x="482" y="69" width="3" height="1"/><rect x="481" y="70" width="1" height="1"/><rect x="485" y="70" width="1" height="1"/><rect x="480" y="71" width="1" height="1"/><rect x="486" y="71" width="1" height="1"/><rect x="480" y="72" width="1" height="1"/><rect x="486" y="72" width="1" height="1"/><rect x="480" y="73" width="1" height="1"/><rect x="486" y="73" width="1" height="1"/><rect x="481" y="74" width="1" height="1"/><rect x="485" y="74" width="1" height="1"/><rect x="482" y="75" width="3" height="1"/></g><rect x="487" y="69" width="7" height="1"/><rect x="490" y="69" width="1" height="29"/><rect x="487" y="92" width="7" height="1"/><rect x="488" y="93" width="5" height="1"/><rect x="488" y="94" width="4" height="1"/><rect x="489" y="95" width="3" height="1"/><rect x="489" y="96" width="2" height="1"/><rect x="490" y="97" width="1" height="1"/><rect x="493" y="79" width="9" height="1"/><rect x="497" y="70" width="1" height="45"/><g fill="#ffffff"><rect x="496" y="76" width="3" height="1"/><rect x="495" y="77" width="1" height="1"/><rect x="499" y="77" width="1" height="1"/><rect x="494" y="78" width="1" height="1"/><rect x="500" y="78" width="1" height="1"/><rect x="494" y="79" width="1" height="1"/><rect x="500" y="79" width="1" height="1"/><rect x="494" y="80" width="1" height="1"/><rect x="500" y="80" width="1" height="1"/><rect x="495" y="81" width="1" height="1"/><rect x="499" y="81" width="1" height="1"/><rect x="496" y="82" width="3" height="1"/></g><rect x="501" y="69" width="7" height="1"/><rect x="504" y="69" width="1" height="27"/><rect x="501" y="90" width="7" height="1"/><rect x="502" y="91" width="5" height="1"/><rect x="502" y="92" width="4" height="1"/><rect x="503" y="93" width="3" height="1"/><rect x="503" y="94" width="2" height="1"/><rect x="504" y="95" width="1" height="1"/><rect x="520" y="84" width="8" height="1"/><rect x="524" y="72" width="1" height="54"/><g fill="#ffffff"><rect x="523" y="81" width="3" height="1"/><rect x="522" y="82" width="1" height="1"/><rect x="526" y="82" width="1" height="1"/><rect x="521" y="83" width="1" height="1"/><rect x="527" y="83" width="1" height="1"/><rect x="521" y="84" width="1" height="1"/><rect x="527" y="84" width="1" height="1"/><rect x="521" y="85" width="1" height="1"/><rect x="527" y="85" width="1" height="1"/><rect x="522" y="86" width="1" height="1"/><rect x="526" y="86" width="1" height="1"/><rect x="523" y="87" width="3" height="1"/></g><rect x="541" y="76" width="8" height="1"/><rect x="544" y="76" width="1" height="27"/><rect x="541" y="97" width="7" height="1"/><rect x="542" y="98" width="5" height="1"/><rect x="542" y="99" width="4" height="1"/><rect x="543" y="100" width="3" height="1"/><rect x="543" y="101" width="2" height="1"/><rect x="544" y="102" width="1" height="1"/><rect x="567" y="87" width="8" height="1"/><rect x="569" y="80" width="1" height="31"/><g fill="#ffffff"><rect x="568" y="84" width="3" height="1"/><rect x="567" y="85" width="1" height="1"/><rect x="571" y="85" width="1" height="1"/><rect x="566" y="86" width="1" height="1"/><rect x="572" y="86" width="1" height="1"/><rect x="566" y="87" width="1" height="1"/><rect x="572" y="87" width="1" height="1"/><rect x="566" y="88" width="1" height="1"/><rect x="572" y="88" width="1" height="1"/><rect x="567" y="89" width="1" height="1"/><rect x="571" y="89" width="1" height="1"/><rect x="568" y="90" width="3" height="1"/></g><rect x="574" y="87" width="7" height="1"/><rect x="576" y="82" width="1" height="29"/><g fill="#ffffff"><rect x="575" y="84" width="3" height="1"/><rect x="574" y="85" width="1" height="1"/><rect x="578" y="85" width="1" height="1"/><rect x="573" y="86" width="1" height="1"/><rect x="579" y="86" width="1" height="1"/><rect x="573" y="87" width="1" height="1"/><rect x="579" y="87" width="1" height="1"/><rect x="573" y="88" width="1" height="1"/><rect x="579" y="88" width="1" height="1"/><rect x="574" y="89" width="1" height="1"/><rect x="578" y="89" width="1" height="1"/><rect x="575" y="90" width="3" height="1"/></g></g>
<g fill="#ffffff"><rect x="83" y="59" width="21" height="1"/><rect x="93" y="59" width="1" height="26"/><rect x="90" y="79" width="7" height="1"/><rect x="91" y="80" width="5" height="1"/><rect x="91" y="81" width="4" height="1"/><rect x="92" y="82" width="3" height="1"/><rect x="92" y="83" width="2" height="1"/><rect x="93" y="84" width="1" height="1"/><rect x="103" y="51" width="19" height="1"/><rect x="112" y="46" width="1" height="11"/><rect x="109.5" y="48.5" width="6" height="6" fill="none" stroke="#ffffff" stroke-width="1"/><rect x="121" y="42" width="18" height="1"/><rect x="130" y="39" width="1" height="8"/><rect x="127.5" y="39.5" width="6" height="6" fill="none" stroke="#ffffff" stroke-width="1"/><rect x="138" y="45" width="17" height="1"/><rect x="146" y="40" width="1" height="11"/><rect x="143.5" y="42.5" width="6" height="6" fill="none" stroke="#ffffff" stroke-width="1"/><rect x="154" y="51" width="18" height="1"/><rect x="162" y="51" width="1" height="26"/><rect x="159" y="71" width="7" height="1"/><rect x="160" y="72" width="5" height="1"/><rect x="160" y="73" width="4" height="1"/><rect x="161" y="74" width="3" height="1"/><rect x="161" y="75" width="2" height="1"/><rect x="162" y="76" width="1" height="1"/><rect x="171" y="38" width="17" height="1"/><rect x="179" y="35" width="1" height="7"/><rect x="176.5" y="35.5" width="6" height="6" fill="none" stroke="#ffffff" stroke-width="1"/><rect x="187" y="35" width="17" height="1"/><rect x="195" y="32" width="1" height="8"/><rect x="192.5" y="32.5" width="6" height="6" fill="none" stroke="#ffffff" stroke-width="1"/><rect x="203" y="36" width="15" height="1"/><rect x="209" y="33" width="1" height="8"/><rect x="206.5" y="33.5" width="6" height="6" fill="none" stroke="#ffffff" stroke-width="1"/><rect x="217" y="40" width="14" height="1"/><rect x="223" y="37" width="1" height="8"/><rect x="220.5" y="37.5" width="6" height="6" fill="none" stroke="#ffffff" stroke-width="1"/><rect x="243" y="45" width="12" height="1"/><rect x="248" y="40" width="1" height="9"/><rect x="245.5" y="42.5" width="6" height="6" fill="none" stroke="#ffffff" stroke-width="1"/><rect x="268" y="59" width="13" height="1"/><rect x="273" y="54" width="1" height="38"/><rect x="270.5" y="56.5" width="6" height="6" fill="none" stroke="#ffffff" stroke-width="1"/><rect x="280" y="52" width="12" height="1"/><rect x="285" y="52" width="1" height="27"/><rect x="282" y="73" width="7" height="1"/><rect x="283" y="74" width="5" height="1"/><rect x="283" y="75" width="4" height="1"/><rect x="284" y="76" width="3" height="1"/><rect x="284" y="77" width="2" height="1"/><rect x="285" y="78" width="1" height="1"/><rect x="303" y="52" width="12" height="1"/><rect x="308" y="47" width="1" height="11"/><rect x="305.5" y="49.5" width="6" height="6" fill="none" stroke="#ffffff" stroke-width="1"/><rect x="314" y="58" width="13" height="1"/><rect x="319" y="58" width="1" height="27"/><rect x="316" y="79" width="7" height="1"/><rect x="317" y="80" width="5" height="1"/><rect x="317" y="81" width="4" height="1"/><rect x="318" y="82" width="3" height="1"/><rect x="318" y="83" width="2" height="1"/><rect x="319" y="84" width="1" height="1"/><rect x="326" y="62" width="11" height="1"/><rect x="331" y="54" width="1" height="12"/><rect x="328.5" y="59.5" width="6" height="6" fill="none" stroke="#ffffff" stroke-width="1"/><rect x="336" y="49" width="12" height="1"/><rect x="342" y="45" width="1" height="10"/><rect x="339.5" y="46.5" width="6" height="6" fill="none" stroke="#ffffff" stroke-width="1"/><rect x="347" y="56" width="11" height="1"/><rect x="352" y="56" width="1" height="27"/><rect x="349" y="77" width="7" height="1"/><rect x="350" y="78" width="5" height="1"/><rect x="350" y="79" width="4" height="1"/><rect x="351" y="80" width="3" height="1"/><rect x="351" y="81" width="2" height="1"/><rect x="352" y="82" width="1" height="1"/><rect x="379" y="60" width="10" height="1"/><rect x="383" y="60" width="1" height="27"/><rect x="380" y="81" width="7" height="1"/><rect x="381" y="82" width="5" height="1"/><rect x="381" y="83" width="4" height="1"/><rect x="382" y="84" width="3" height="1"/><rect x="382" y="85" width="2" height="1"/><rect x="383" y="86" width="1" height="1"/><rect x="412" y="73" width="10" height="1"/><rect x="416" y="64" width="1" height="36"/><rect x="413.5" y="70.5" width="6" height="6" fill="none" stroke="#ffffff" stroke-width="1"/><rect x="436" y="70" width="8" height="1"/><rect x="439" y="62" width="1" height="19"/><rect x="436.5" y="67.5" width="6" height="6" fill="none" stroke="#ffffff" stroke-width="1"/><rect x="443" y="68" width="8" height="1"/><rect x="446" y="68" width="1" height="27"/><rect x="443" y="89" width="7" height="1"/><rect x="444" y="90" width="5" height="1"/><rect x="444" y="91" width="4" height="1"/><rect x="445" y="92" width="3" height="1"/><rect x="445" y="93" width="2" height="1"/><rect x="446" y="94" width="1" height="1"/><rect x="487" y="72" width="7" height="1"/><rect x="490" y="64" width="1" height="19"/><rect x="487.5" y="69.5" width="6" height="6" fill="none" stroke="#ffffff" stroke-width="1"/><rect x="520" y="73" width="8" height="1"/><rect x="524" y="73" width="1" height="27"/><rect x="521" y="94" width="7" height="1"/><rect x="522" y="95" width="5" height="1"/><rect x="522" y="96" width="4" height="1"/><rect x="523" y="97" width="3" height="1"/><rect x="523" y="98" width="2" height="1"/><rect x="524" y="99" width="1" height="1"/><rect x="548" y="75" width="7" height="1"/><rect x="550" y="72" width="1" height="9"/><rect x="561" y="83" width="7" height="1"/><rect x="563" y="75" width="1" height="18"/><rect x="560.5" y="80.5" width="6" height="6" fill="none" stroke="#ffffff" stroke-width="1"/></g>
<g fill="#ff0000"><rect x="83" y="58" width="21" height="1"/><rect x="93" y="58" width="1" height="27"/><rect x="90" y="79" width="7" height="1"/><rect x="91" y="80" width="5" height="1"/><rect x="91" y="81" width="4" height="1"/><rect x="92" y="82" width="3" height="1"/><rect x="92" y="83" width="2" height="1"/><rect x="93" y="84" width="1" height="1"/><rect x="103" y="53" width="19" height="1"/><rect x="112" y="50" width="1" height="13"/><path d="M112.5 50.5 l3 3 l-3 3 l-3 -3 z" fill="none" stroke="#ff0000" stroke-width="1"/><rect x="121" y="58" width="18" height="1"/><rect x="130" y="51" width="1" height="37"/><path d="M130.5 55.5 l3 3 l-3 3 l-3 -3 z" fill="none" stroke="#ff0000" stroke-width="1"/><rect x="138" y="57" width="17" height="1"/><rect x="146" y="48" width="1" height="31"/><path d="M146.5 54.5 l3 3 l-3 3 l-3 -3 z" fill="none" stroke="#ff0000" stroke-width="1"/><rect x="154" y="58" width="18" height="1"/><rect x="162" y="50" width="1" height="37"/><path d="M162.5 55.5 l3 3 l-3 3 l-3 -3 z" fill="none" stroke="#ff0000" stroke-width="1"/><rect x="171" y="46" width="17" height="1"/><rect x="179" y="42" width="1" height="10"/><path d="M179.5 43.5 l3 3 l-3 3 l-3 -3 z" fill="none" stroke="#ff0000" stroke-width="1"/><rect x="187" y="43" width="17" height="1"/><rect x="195" y="40" width="1" height="8"/><path d="M195.5 40.5 l3 3 l-3 3 l-3 -3 z" fill="none" stroke="#ff0000" stroke-width="1"/><rect x="203" y="47" width="15" height="1"/><rect x="209" y="41" width="1" height="19"/><path d="M209.5 44.5 l3 3 l-3 3 l-3 -3 z" fill="none" stroke="#ff0000" stroke-width="1"/><rect x="217" y="48" width="14" height="1"/><rect x="223" y="48" width="1" height="26"/><rect x="220" y="68" width="7" height="1"/><rect x="221" y="69" width="5" height="1"/><rect x="221" y="70" width="4" height="1"/><rect x="222" y="71" width="3" height="1"/><rect x="222" y="72" width="2" height="1"/><rect x="223" y="73" width="1" height="1"/><rect x="230" y="48" width="14" height="1"/><rect x="236" y="48" width="1" height="26"/><rect x="233" y="68" width="7" height="1"/><rect x="234" y="69" width="5" height="1"/><rect x="234" y="70" width="4" height="1"/><rect x="235" y="71" width="3" height="1"/><rect x="235" y="72" width="2" height="1"/><rect x="236" y="73" width="1" height="1"/><rect x="243" y="57" width="12" height="1"/><rect x="248" y="48" width="1" height="36"/><path d="M248.5 54.5 l3 3 l-3 3 l-3 -3 z" fill="none" stroke="#ff0000" stroke-width="1"/><rect x="254" y="51" width="15" height="1"/><rect x="261" y="45" width="1" height="15"/><path d="M261.5 48.5 l3 3 l-3 3 l-3 -3 z" fill="none" stroke="#ff0000" stroke-width="1"/><rect x="268" y="52" width="13" height="1"/><rect x="273" y="52" width="1" height="27"/><rect x="270" y="73" width="7" height="1"/><rect x="271" y="74" width="5" height="1"/><rect x="271" y="75" width="4" height="1"/><rect x="272" y="76" width="3" height="1"/><rect x="272" y="77" width="2" height="1"/><rect x="273" y="78" width="1" height="1"/><rect x="280" y="53" width="12" height="1"/><rect x="285" y="47" width="1" height="17"/><path d="M285.5 50.5 l3 3 l-3 3 l-3 -3 z" fill="none" stroke="#ff0000" stroke-width="1"/><rect x="291" y="61" width="13" height="1"/><rect x="297" y="57" width="1" height="31"/><path d="M297.5 58.5 l3 3 l-3 3 l-3 -3 z" fill="none" stroke="#ff0000" stroke-width="1"/><rect x="303" y="55" width="12" height="1"/><rect x="308" y="55" width="1" height="26"/><rect x="305" y="75" width="7" height="1"/><rect x="306" y="76" width="5" height="1"/><rect x="306" y="77" width="4" height="1"/><rect x="307" y="78" width="3" height="1"/><rect x="307" y="79" width="2" height="1"/><rect x="308" y="80" width="1" height="1"/><rect x="314" y="65" width="13" height="1"/><rect x="319" y="55" width="1" height="40"/><path d="M319.5 62.5 l3 3 l-3 3 l-3 -3 z" fill="none" stroke="#ff0000" stroke-width="1"/><rect x="326" y="58" width="11" height="1"/><rect x="331" y="58" width="1" height="27"/><rect x="328" y="79" width="7" height="1"/><rect x="329" y="80" width="5" height="1"/><rect x="329" y="81" width="4" height="1"/><rect x="330" y="82" width="3" height="1"/><rect x="330" y="83" width="2" height="1"/><rect x="331" y="84" width="1" height="1"/><rect x="336" y="58" width="12" height="1"/><rect x="342" y="58" width="1" height="27"/><rect x="339" y="79" width="7" height="1"/><rect x="340" y="80" width="5" height="1"/><rect x="340" y="81" width="4" height="1"/><rect x="341" y="82" width="3" height="1"/><rect x="341" y="83" width="2" height="1"/><rect x="342" y="84" width="1" height="1"/><rect x="347" y="66" width="11" height="1"/><rect x="352" y="56" width="1" height="41"/><path d="M352.5 63.5 l3 3 l-3 3 l-3 -3 z" fill="none" stroke="#ff0000" stroke-width="1"/><rect x="357" y="58" width="11" height="1"/><rect x="362" y="58" width="1" height="27"/><rect x="359" y="79" width="7" height="1"/><rect x="360" y="80" width="5" height="1"/><rect x="360" y="81" width="4" height="1"/><rect x="361" y="82" width="3" height="1"/><rect x="361" y="83" width="2" height="1"/><rect x="362" y="84" width="1" height="1"/><rect x="367" y="62" width="13" height="1"/><rect x="373" y="62" width="1" height="27"/><rect x="370" y="83" width="7" height="1"/><rect x="371" y="84" width="5" height="1"/><rect x="371" y="85" width="4" height="1"/><rect x="372" y="86" width="3" height="1"/><rect x="372" y="87" width="2" height="1"/><rect x="373" y="88" width="1" height="1"/><rect x="379" y="61" width="10" height="1"/><rect x="383" y="61" width="1" height="26"/><rect x="380" y="81" width="7" height="1"/><rect x="381" y="82" width="5" height="1"/><rect x="381" y="83" width="4" height="1"/><rect x="382" y="84" width="3" height="1"/><rect x="382" y="85" width="2" height="1"/><rect x="383" y="86" width="1" height="1"/><rect x="388" y="62" width="10" height="1"/><rect x="392" y="62" width="1" height="27"/><rect x="389" y="83" width="7" height="1"/><rect x="390" y="84" width="5" height="1"/><rect x="390" y="85" width="4" height="1"/><rect x="391" y="86" width="3" height="1"/><rect x="391" y="87" width="2" height="1"/><rect x="392" y="88" width="1" height="1"/><rect x="397" y="64" width="9" height="1"/><rect x="400" y="64" width="1" height="26"/><rect x="397" y="84" width="7" height="1"/><rect x="398" y="85" width="5" height="1"/><rect x="398" y="86" width="4" height="1"/><rect x="399" y="87" width="3" height="1"/><rect x="399" y="88" width="2" height="1"/><rect x="400" y="89" width="1" height="1"/><rect x="405" y="64" width="8" height="1"/><rect x="408" y="64" width="1" height="27"/><rect x="405" y="85" width="7" height="1"/><rect x="406" y="86" width="5" height="1"/><rect x="406" y="87" width="4" height="1"/><rect x="407" y="88" width="3" height="1"/><rect x="407" y="89" width="2" height="1"/><rect x="408" y="90" width="1" height="1"/><rect x="412" y="67" width="10" height="1"/><rect x="416" y="67" width="1" height="27"/><rect x="413" y="88" width="7" height="1"/><rect x="414" y="89" width="5" height="1"/><rect x="414" y="90" width="4" height="1"/><rect x="415" y="91" width="3" height="1"/><rect x="415" y="92" width="2" height="1"/><rect x="416" y="93" width="1" height="1"/><rect x="421" y="67" width="8" height="1"/><rect x="424" y="67" width="1" height="26"/><rect x="421" y="87" width="7" height="1"/><rect x="422" y="88" width="5" height="1"/><rect x="422" y="89" width="4" height="1"/><rect x="423" y="90" width="3" height="1"/><rect x="423" y="91" width="2" height="1"/><rect x="424" y="92" width="1" height="1"/><rect x="428" y="67" width="9" height="1"/><rect x="431" y="67" width="1" height="26"/><rect x="428" y="87" width="7" height="1"/><rect x="429" y="88" width="5" height="1"/><rect x="429" y="89" width="4" height="1"/><rect x="430" y="90" width="3" height="1"/><rect x="430" y="91" width="2" height="1"/><rect x="431" y="92" width="1" height="1"/><rect x="436" y="68" width="8" height="1"/><rect x="439" y="68" width="1" height="26"/><rect x="436" y="88" width="7" height="1"/><rect x="437" y="89" width="5" height="1"/><rect x="437" y="90" width="4" height="1"/><rect x="438" y="91" width="3" height="1"/><rect x="438" y="92" width="2" height="1"/><rect x="439" y="93" width="1" height="1"/><rect x="443" y="78" width="8" height="1"/><rect x="446" y="68" width="1" height="58"/><path d="M446.5 75.5 l3 3 l-3 3 l-3 -3 z" fill="none" stroke="#ff0000" stroke-width="1"/><rect x="450" y="76" width="9" height="1"/><rect x="454" y="67" width="1" height="39"/><path d="M454.5 73.5 l3 3 l-3 3 l-3 -3 z" fill="none" stroke="#ff0000" stroke-width="1"/><rect x="458" y="68" width="7" height="1"/><rect x="461" y="68" width="1" height="27"/><rect x="458" y="89" width="7" height="1"/><rect x="459" y="90" width="5" height="1"/><rect x="459" y="91" width="4" height="1"/><rect x="460" y="92" width="3" height="1"/><rect x="460" y="93" width="2" height="1"/><rect x="461" y="94" width="1" height="1"/><rect x="464" y="70" width="9" height="1"/><rect x="468" y="70" width="1" height="27"/><rect x="465" y="91" width="7" height="1"/><rect x="466" y="92" width="5" height="1"/><rect x="466" y="93" width="4" height="1"/><rect x="467" y="94" width="3" height="1"/><rect x="467" y="95" width="2" height="1"/><rect x="468" y="96" width="1" height="1"/><rect x="472" y="70" width="9" height="1"/><rect x="476" y="70" width="1" height="28"/><rect x="473" y="92" width="7" height="1"/><rect x="474" y="93" width="5" height="1"/><rect x="474" y="94" width="4" height="1"/><rect x="475" y="95" width="3" height="1"/><rect x="475" y="96" width="2" height="1"/><rect x="476" y="97" width="1" height="1"/><rect x="480" y="70" width="8" height="1"/><rect x="483" y="70" width="1" height="27"/><rect x="480" y="91" width="7" height="1"/><rect x="481" y="92" width="5" height="1"/><rect x="481" y="93" width="4" height="1"/><rect x="482" y="94" width="3" height="1"/><rect x="482" y="95" width="2" height="1"/><rect x="483" y="96" width="1" height="1"/><rect x="487" y="70" width="7" height="1"/><rect x="490" y="70" width="1" height="27"/><rect x="487" y="91" width="7" height="1"/><rect x="488" y="92" width="5" height="1"/><rect x="488" y="93" width="4" height="1"/><rect x="489" y="94" width="3" height="1"/><rect x="489" y="95" width="2" height="1"/><rect x="490" y="96" width="1" height="1"/><rect x="493" y="70" width="9" height="1"/><rect x="497" y="70" width="1" height="27"/><rect x="494" y="91" width="7" height="1"/><rect x="495" y="92" width="5" height="1"/><rect x="495" y="93" width="4" height="1"/><rect x="496" y="94" width="3" height="1"/><rect x="496" y="95" width="2" height="1"/><rect x="497" y="96" width="1" height="1"/><rect x="501" y="70" width="7" height="1"/><rect x="504" y="70" width="1" height="27"/><rect x="501" y="91" width="7" height="1"/><rect x="502" y="92" width="5" height="1"/><rect x="502" y="93" width="4" height="1"/><rect x="503" y="94" width="3" height="1"/><rect x="503" y="95" width="2" height="1"/><rect x="504" y="96" width="1" height="1"/><rect x="507" y="72" width="8" height="1"/><rect x="510" y="72" width="1" height="26"/><rect x="507" y="92" width="7" height="1"/><rect x="508" y="93" width="5" height="1"/><rect x="508" y="94" width="4" height="1"/><rect x="509" y="95" width="3" height="1"/><rect x="509" y="96" width="2" height="1"/><rect x="510" y="97" width="1" height="1"/><rect x="514" y="74" width="7" height="1"/><rect x="517" y="74" width="1" height="27"/><rect x="514" y="95" width="7" height="1"/><rect x="515" y="96" width="5" height="1"/><rect x="515" y="97" width="4" height="1"/><rect x="516" y="98" width="3" height="1"/><rect x="516" y="99" width="2" height="1"/><rect x="517" y="100" width="1" height="1"/><rect x="520" y="75" width="8" height="1"/><rect x="524" y="72" width="1" height="7"/><path d="M524.5 72.5 l3 3 l-3 3 l-3 -3 z" fill="none" stroke="#ff0000" stroke-width="1"/><rect x="527" y="76" width="8" height="1"/><rect x="530" y="76" width="1" height="26"/><rect x="527" y="96" width="7" height="1"/><rect x="528" y="97" width="5" height="1"/><rect x="528" y="98" width="4" height="1"/><rect x="529" y="99" width="3" height="1"/><rect x="529" y="100" width="2" height="1"/><rect x="530" y="101" width="1" height="1"/><rect x="534" y="76" width="8" height="1"/><rect x="537" y="76" width="1" height="27"/><rect x="534" y="97" width="7" height="1"/><rect x="535" y="98" width="5" height="1"/><rect x="535" y="99" width="4" height="1"/><rect x="536" y="100" width="3" height="1"/><rect x="536" y="101" width="2" height="1"/><rect x="537" y="102" width="1" height="1"/><rect x="541" y="77" width="8" height="1"/><rect x="544" y="77" width="1" height="26"/><rect x="541" y="97" width="7" height="1"/><rect x="542" y="98" width="5" height="1"/><rect x="542" y="99" width="4" height="1"/><rect x="543" y="100" width="3" height="1"/><rect x="543" y="101" width="2" height="1"/><rect x="544" y="102" width="1" height="1"/><rect x="548" y="78" width="7" height="1"/><rect x="550" y="78" width="1" height="27"/><rect x="547" y="99" width="7" height="1"/><rect x="548" y="100" width="5" height="1"/><rect x="548" y="101" width="4" height="1"/><rect x="549" y="102" width="3" height="1"/><rect x="549" y="103" width="2" height="1"/><rect x="550" y="104" width="1" height="1"/><rect x="554" y="79" width="8" height="1"/><rect x="557" y="79" width="1" height="26"/><rect x="554" y="99" width="7" height="1"/><rect x="555" y="100" width="5" height="1"/><rect x="555" y="101" width="4" height="1"/><rect x="556" y="102" width="3" height="1"/><rect x="556" y="103" width="2" height="1"/><rect x="557" y="104" width="1" height="1"/><rect x="561" y="80" width="7" height="1"/><rect x="563" y="80" width="1" height="25"/><rect x="560" y="99" width="7" height="1"/><rect x="561" y="100" width="5" height="1"/><rect x="561" y="101" width="4" height="1"/><rect x="562" y="102" width="3" height="1"/><rect x="562" y="103" width="2" height="1"/><rect x="563" y="104" width="1" height="1"/><rect x="567" y="80" width="8" height="1"/><rect x="569" y="80" width="1" height="26"/><rect x="566" y="100" width="7" height="1"/><rect x="567" y="101" width="5" height="1"/><rect x="567" y="102" width="4" height="1"/><rect x="568" y="103" width="3" height="1"/><rect x="568" y="104" width="2" height="1"/><rect x="569" y="105" width="1" height="1"/></g>
<g fill="#00ffff"><rect x="72" y="420" width="1" height="1"/><rect x="78" y="420" width="1" height="1"/><rect x="84" y="420" width="1" height="1"/><rect x="90" y="420" width="1" height="1"/><rect x="96" y="420" width="1" height="1"/><rect x="102" y="420" width="1" height="1"/><rect x="108" y="420" width="1" height="1"/><rect x="114" y="420" width="1" height="1"/><rect x="120" y="420" width="1" height="1"/><rect x="126" y="420" width="1" height="1"/><rect x="132" y="420" width="1" height="1"/><rect x="138" y="420" width="1" height="1"/><rect x="144" y="420" width="1" height="1"/><rect x="150" y="420" width="1" height="1"/><rect x="156" y="420" width="1" height="1"/><rect x="162" y="420" width="1" height="1"/><rect x="168" y="420" width="1" height="1"/><rect x="174" y="420" width="1" height="1"/><rect x="180" y="420" width="1" height="1"/><rect x="186" y="420" width="1" height="1"/><rect x="192" y="420" width="1" height="1"/><rect x="198" y="420" width="1" height="1"/><rect x="204" y="420" width="1" height="1"/><rect x="210" y="420" width="1" height="1"/><rect x="216" y="420" width="1" height="1"/><rect x="222" y="420" width="1" height="1"/><rect x="228" y="420" width="1" height="1"/><rect x="234" y="420" width="1" height="1"/><rect x="240" y="420" width="1" height="1"/><rect x="246" y="420" width="1" height="1"/><rect x="252" y="420" width="1" height="1"/><rect x="258" y="420" width="1" height="1"/><rect x="264" y="420" width="1" height="1"/><rect x="270" y="420" width="1" height="1"/><rect x="276" y="420" width="1" height="1"/><rect x="282" y="420" width="1" height="1"/><rect x="288" y="420" width="1" height="1"/><rect x="294" y="420" width="1" height="1"/><rect x="300" y="420" width="1" height="1"/><rect x="306" y="420" width="1" height="1"/><rect x="312" y="420" width="1" height="1"/><rect x="318" y="420" width="1" height="1"/><rect x="324" y="420" width="1" height="1"/><rect x="330" y="420" width="1" height="1"/><rect x="336" y="420" width="1" height="1"/><rect x="342" y="420" width="1" height="1"/><rect x="348" y="420" width="1" height="1"/><rect x="354" y="420" width="1" height="1"/><rect x="360" y="420" width="1" height="1"/><rect x="366" y="420" width="1" height="1"/><rect x="372" y="420" width="1" height="1"/><rect x="378" y="420" width="1" height="1"/><rect x="384" y="420" width="1" height="1"/><rect x="390" y="420" width="1" height="1"/><rect x="396" y="420" width="1" height="1"/><rect x="402" y="420" width="1" height="1"/><rect x="408" y="420" width="1" height="1"/><rect x="414" y="420" width="1" height="1"/><rect x="420" y="420" width="1" height="1"/><rect x="426" y="420" width="1" height="1"/><rect x="432" y="420" width="1" height="1"/><rect x="438" y="420" width="1" height="1"/><rect x="444" y="420" width="1" height="1"/><rect x="450" y="420" width="1" height="1"/><rect x="456" y="420" width="1" height="1"/><rect x="462" y="420" width="1" height="1"/><rect x="468" y="420" width="1" height="1"/><rect x="474" y="420" width="1" height="1"/><rect x="480" y="420" width="1" height="1"/><rect x="486" y="420" width="1" height="1"/><rect x="492" y="420" width="1" height="1"/><rect x="498" y="420" width="1" height="1"/><rect x="504" y="420" width="1" height="1"/><rect x="510" y="420" width="1" height="1"/><rect x="516" y="420" width="1" height="1"/><rect x="522" y="420" width="1" height="1"/><rect x="528" y="420" width="1" height="1"/><rect x="534" y="420" width="1" height="1"/><rect x="540" y="420" width="1" height="1"/><rect x="546" y="420" width="1" height="1"/><rect x="552" y="420" width="1" height="1"/><rect x="558" y="420" width="1" height="1"/><rect x="564" y="420" width="1" height="1"/><rect x="570" y="420" width="1" height="1"/><rect x="576" y="420" width="1" height="1"/><rect x="582" y="420" width="1" height="1"/></g>
<g fill="#ffff00"><rect x="83" y="424" width="21" height="1"/><rect x="93" y="415" width="1" height="19"/><rect x="103" y="411" width="19" height="1"/><rect x="112" y="402" width="1" height="19"/><rect x="121" y="433" width="18" height="1"/><rect x="130" y="424" width="1" height="19"/><rect x="138" y="427" width="17" height="1"/><rect x="146" y="418" width="1" height="19"/><rect x="154" y="411" width="18" height="1"/><rect x="162" y="402" width="1" height="19"/><rect x="171" y="424" width="17" height="1"/><rect x="179" y="415" width="1" height="19"/><rect x="187" y="426" width="17" height="1"/><rect x="195" y="417" width="1" height="19"/><rect x="203" y="431" width="15" height="1"/><rect x="209" y="422" width="1" height="19"/><rect x="217" y="416" width="14" height="1"/><rect x="223" y="407" width="1" height="19"/><rect x="230" y="410" width="14" height="1"/><rect x="236" y="401" width="1" height="19"/><rect x="243" y="419" width="12" height="1"/><rect x="248" y="410" width="1" height="19"/><rect x="254" y="433" width="15" height="1"/><rect x="261" y="424" width="1" height="19"/><rect x="268" y="418" width="13" height="1"/><rect x="273" y="409" width="1" height="19"/><rect x="280" y="423" width="12" height="1"/><rect x="285" y="414" width="1" height="19"/><rect x="291" y="409" width="13" height="1"/><rect x="297" y="400" width="1" height="19"/><rect x="303" y="428" width="12" height="1"/><rect x="308" y="419" width="1" height="19"/><rect x="314" y="414" width="13" height="1"/><rect x="319" y="405" width="1" height="19"/><rect x="326" y="417" width="11" height="1"/><rect x="331" y="408" width="1" height="19"/><rect x="336" y="428" width="12" height="1"/><rect x="342" y="419" width="1" height="19"/><rect x="347" y="412" width="11" height="1"/><rect x="352" y="403" width="1" height="19"/><rect x="357" y="405" width="11" height="1"/><rect x="362" y="396" width="1" height="19"/><rect x="367" y="413" width="13" height="1"/><rect x="373" y="404" width="1" height="19"/><rect x="379" y="408" width="10" height="1"/><rect x="383" y="399" width="1" height="19"/><rect x="388" y="425" width="10" height="1"/><rect x="392" y="416" width="1" height="19"/><rect x="397" y="419" width="9" height="1"/><rect x="400" y="410" width="1" height="19"/><rect x="405" y="434" width="8" height="1"/><rect x="408" y="425" width="1" height="19"/><rect x="412" y="419" width="10" height="1"/><rect x="416" y="410" width="1" height="19"/><rect x="421" y="419" width="8" height="1"/><rect x="424" y="410" width="1" height="19"/><rect x="428" y="406" width="9" height="1"/><rect x="431" y="397" width="1" height="19"/><rect x="436" y="417" width="8" height="1"/><rect x="439" y="408" width="1" height="19"/><rect x="443" y="414" width="8" height="1"/><rect x="446" y="405" width="1" height="19"/><rect x="450" y="423" width="9" height="1"/><rect x="454" y="414" width="1" height="19"/><rect x="458" y="445" width="7" height="1"/><rect x="461" y="436" width="1" height="19"/><rect x="464" y="418" width="9" height="1"/><rect x="468" y="409" width="1" height="19"/><rect x="472" y="413" width="9" height="1"/><rect x="476" y="404" width="1" height="19"/><rect x="480" y="424" width="8" height="1"/><rect x="483" y="415" width="1" height="19"/><rect x="487" y="424" width="7" height="1"/><rect x="490" y="415" width="1" height="19"/><rect x="493" y="423" width="9" height="1"/><rect x="497" y="414" width="1" height="19"/><rect x="501" y="432" width="7" height="1"/><rect x="504" y="423" width="1" height="19"/><rect x="507" y="411" width="8" height="1"/><rect x="510" y="402" width="1" height="19"/><rect x="514" y="408" width="7" height="1"/><rect x="517" y="399" width="1" height="19"/><rect x="520" y="420" width="8" height="1"/><rect x="524" y="411" width="1" height="19"/><rect x="527" y="415" width="8" height="1"/><rect x="530" y="406" width="1" height="19"/><rect x="534" y="401" width="8" height="1"/><rect x="537" y="392" width="1" height="19"/><rect x="541" y="429" width="8" height="1"/><rect x="544" y="420" width="1" height="19"/><rect x="548" y="415" width="7" height="1"/><rect x="550" y="406" width="1" height="19"/><rect x="554" y="408" width="8" height="1"/><rect x="557" y="399" width="1" height="19"/><rect x="561" y="420" width="7" height="1"/><rect x="563" y="411" width="1" height="19"/><rect x="567" y="422" width="8" height="1"/><rect x="569" y="413" width="1" height="19"/><rect x="574" y="401" width="7" height="1"/><rect x="576" y="392" width="1" height="19"/></g>
<g fill="#ffffff"><rect x="83" y="422" width="21" height="1"/><rect x="93" y="413" width="1" height="19"/><rect x="103" y="413" width="19" height="1"/><rect x="112" y="404" width="1" height="19"/><rect x="121" y="404" width="18" height="1"/><rect x="130" y="395" width="1" height="19"/><rect x="138" y="418" width="17" height="1"/><rect x="146" y="409" width="1" height="19"/><rect x="154" y="449" width="18" height="1"/><rect x="162" y="440" width="1" height="19"/><rect x="171" y="410" width="17" height="1"/><rect x="179" y="401" width="1" height="19"/><rect x="187" y="434" width="17" height="1"/><rect x="195" y="425" width="1" height="19"/><rect x="203" y="407" width="15" height="1"/><rect x="209" y="398" width="1" height="19"/><rect x="217" y="414" width="14" height="1"/><rect x="223" y="405" width="1" height="19"/><rect x="230" y="435" width="14" height="1"/><rect x="236" y="426" width="1" height="19"/><rect x="243" y="424" width="12" height="1"/><rect x="248" y="415" width="1" height="19"/><rect x="254" y="416" width="15" height="1"/><rect x="261" y="407" width="1" height="19"/><rect x="268" y="426" width="13" height="1"/><rect x="273" y="417" width="1" height="19"/><rect x="280" y="416" width="12" height="1"/><rect x="285" y="407" width="1" height="19"/><rect x="291" y="416" width="13" height="1"/><rect x="297" y="407" width="1" height="19"/><rect x="303" y="413" width="12" height="1"/><rect x="308" y="404" width="1" height="19"/><rect x="314" y="424" width="13" height="1"/><rect x="319" y="415" width="1" height="19"/><rect x="326" y="414" width="11" height="1"/><rect x="331" y="405" width="1" height="19"/><rect x="336" y="394" width="12" height="1"/><rect x="342" y="385" width="1" height="19"/><rect x="347" y="404" width="11" height="1"/><rect x="352" y="395" width="1" height="19"/><rect x="357" y="411" width="11" height="1"/><rect x="362" y="402" width="1" height="19"/><rect x="367" y="421" width="13" height="1"/><rect x="373" y="412" width="1" height="19"/><rect x="379" y="429" width="10" height="1"/><rect x="383" y="420" width="1" height="19"/><rect x="388" y="419" width="10" height="1"/><rect x="392" y="410" width="1" height="19"/><rect x="397" y="415" width="9" height="1"/><rect x="400" y="406" width="1" height="19"/><rect x="405" y="418" width="8" height="1"/><rect x="408" y="409" width="1" height="19"/><rect x="412" y="409" width="10" height="1"/><rect x="416" y="400" width="1" height="19"/><rect x="421" y="409" width="8" height="1"/><rect x="424" y="400" width="1" height="19"/><rect x="428" y="414" width="9" height="1"/><rect x="431" y="405" width="1" height="19"/><rect x="436" y="404" width="8" height="1"/><rect x="439" y="395" width="1" height="19"/><rect x="443" y="418" width="8" height="1"/><rect x="446" y="409" width="1" height="19"/><rect x="450" y="424" width="9" height="1"/><rect x="454" y="415" width="1" height="19"/><rect x="458" y="429" width="7" height="1"/><rect x="461" y="420" width="1" height="19"/><rect x="464" y="423" width="9" height="1"/><rect x="468" y="414" width="1" height="19"/><rect x="472" y="426" width="9" height="1"/><rect x="476" y="417" width="1" height="19"/><rect x="480" y="404" width="8" height="1"/><rect x="483" y="395" width="1" height="19"/><rect x="487" y="404" width="7" height="1"/><rect x="490" y="395" width="1" height="19"/><rect x="493" y="410" width="9" height="1"/><rect x="497" y="401" width="1" height="19"/><rect x="501" y="430" width="7" height="1"/><rect x="504" y="421" width="1" height="19"/><rect x="507" y="421" width="8" height="1"/><rect x="510" y="412" width="1" height="19"/><rect x="514" y="417" width="7" height="1"/><rect x="517" y="408" width="1" height="19"/><rect x="520" y="410" width="8" height="1"/><rect x="524" y="401" width="1" height="19"/><rect x="527" y="405" width="8" height="1"/><rect x="530" y="396" width="1" height="19"/><rect x="534" y="417" width="8" height="1"/><rect x="537" y="408" width="1" height="19"/><rect x="541" y="424" width="8" height="1"/><rect x="544" y="415" width="1" height="19"/><rect x="548" y="400" width="7" height="1"/><rect x="550" y="391" width="1" height="19"/><rect x="554" y="412" width="8" height="1"/><rect x="557" y="403" width="1" height="19"/><rect x="561" y="407" width="7" height="1"/><rect x="563" y="398" width="1" height="19"/><rect x="567" y="409" width="8" height="1"/><rect x="569" y="400" width="1" height="19"/><rect x="574" y="402" width="7" height="1"/><rect x="576" y="393" width="1" height="19"/></g>
<g fill="#ffffff"><rect x="83" y="424" width="21" height="1"/><rect x="93" y="415" width="1" height="19"/><rect x="103" y="418" width="19" height="1"/><rect x="112" y="409" width="1" height="19"/><rect x="121" y="426" width="18" height="1"/><rect x="130" y="417" width="1" height="19"/><rect x="138" y="422" width="17" height="1"/><rect x="146" y="413" width="1" height="19"/><rect x="154" y="416" width="18" height="1"/><rect x="162" y="407" width="1" height="19"/><rect x="171" y="413" width="17" height="1"/><rect x="179" y="404" width="1" height="19"/><rect x="187" y="405" width="17" height="1"/><rect x="195" y="396" width="1" height="19"/><rect x="203" y="428" width="15" height="1"/><rect x="209" y="419" width="1" height="19"/><rect x="217" y="417" width="14" height="1"/><rect x="223" y="408" width="1" height="19"/><rect x="230" y="429" width="14" height="1"/><rect x="236" y="420" width="1" height="19"/><rect x="243" y="419" width="12" height="1"/><rect x="248" y="410" width="1" height="19"/><rect x="254" y="423" width="15" height="1"/><rect x="261" y="414" width="1" height="19"/><rect x="268" y="428" width="13" height="1"/><rect x="273" y="419" width="1" height="19"/><rect x="280" y="433" width="12" height="1"/><rect x="285" y="424" width="1" height="19"/><rect x="291" y="423" width="13" height="1"/><rect x="297" y="414" width="1" height="19"/><rect x="303" y="419" width="12" height="1"/><rect x="308" y="410" width="1" height="19"/><rect x="314" y="431" width="13" height="1"/><rect x="319" y="422" width="1" height="19"/><rect x="326" y="429" width="11" height="1"/><rect x="331" y="420" width="1" height="19"/><rect x="336" y="423" width="12" height="1"/><rect x="342" y="414" width="1" height="19"/><rect x="347" y="426" width="11" height="1"/><rect x="352" y="417" width="1" height="19"/><rect x="357" y="420" width="11" height="1"/><rect x="362" y="411" width="1" height="19"/><rect x="367" y="423" width="13" height="1"/><rect x="373" y="414" width="1" height="19"/><rect x="379" y="422" width="10" height="1"/><rect x="383" y="413" width="1" height="19"/><rect x="388" y="425" width="10" height="1"/><rect x="392" y="416" width="1" height="19"/><rect x="397" y="429" width="9" height="1"/><rect x="400" y="420" width="1" height="19"/><rect x="405" y="422" width="8" height="1"/><rect x="408" y="413" width="1" height="19"/><rect x="412" y="421" width="10" height="1"/><rect x="416" y="412" width="1" height="19"/><rect x="421" y="437" width="8" height="1"/><rect x="424" y="428" width="1" height="19"/><rect x="428" y="415" width="9" height="1"/><rect x="431" y="406" width="1" height="19"/><rect x="436" y="412" width="8" height="1"/><rect x="439" y="403" width="1" height="19"/><rect x="443" y="412" width="8" height="1"/><rect x="446" y="403" width="1" height="19"/><rect x="450" y="436" width="9" height="1"/><rect x="454" y="427" width="1" height="19"/><rect x="458" y="422" width="7" height="1"/><rect x="461" y="413" width="1" height="19"/><rect x="464" y="431" width="9" height="1"/><rect x="468" y="422" width="1" height="19"/><rect x="472" y="430" width="9" height="1"/><rect x="476" y="421" width="1" height="19"/><rect x="480" y="422" width="8" height="1"/><rect x="483" y="413" width="1" height="19"/><rect x="487" y="423" width="7" height="1"/><rect x="490" y="414" width="1" height="19"/><rect x="493" y="411" width="9" height="1"/><rect x="497" y="402" width="1" height="19"/><rect x="501" y="431" width="7" height="1"/><rect x="504" y="422" width="1" height="19"/><rect x="507" y="424" width="8" height="1"/><rect x="510" y="415" width="1" height="19"/><rect x="514" y="428" width="7" height="1"/><rect x="517" y="419" width="1" height="19"/><rect x="520" y="415" width="8" height="1"/><rect x="524" y="406" width="1" height="19"/><rect x="527" y="422" width="8" height="1"/><rect x="530" y="413" width="1" height="19"/><rect x="534" y="428" width="8" height="1"/><rect x="537" y="419" width="1" height="19"/><rect x="541" y="426" width="8" height="1"/><rect x="544" y="417" width="1" height="19"/><rect x="548" y="425" width="7" height="1"/><rect x="550" y="416" width="1" height="19"/><rect x="554" y="429" width="8" height="1"/><rect x="557" y="420" width="1" height="19"/><rect x="561" y="413" width="7" height="1"/><rect x="563" y="404" width="1" height="19"/><rect x="567" y="414" width="8" height="1"/><rect x="569" y="405" width="1" height="19"/><rect x="574" y="409" width="7" height="1"/><rect x="576" y="400" width="1" height="19"/></g>
<g fill="#ff0000"><rect x="83" y="423" width="21" height="1"/><rect x="93" y="414" width="1" height="19"/><rect x="103" y="402" width="19" height="1"/><rect x="112" y="393" width="1" height="19"/><rect x="121" y="413" width="18" height="1"/><rect x="130" y="404" width="1" height="19"/><rect x="138" y="413" width="17" height="1"/><rect x="146" y="404" width="1" height="19"/><rect x="154" y="416" width="18" height="1"/><rect x="162" y="407" width="1" height="19"/><rect x="171" y="407" width="17" height="1"/><rect x="179" y="398" width="1" height="19"/><rect x="187" y="404" width="17" height="1"/><rect x="195" y="395" width="1" height="19"/><rect x="203" y="410" width="15" height="1"/><rect x="209" y="401" width="1" height="19"/><rect x="217" y="421" width="14" height="1"/><rect x="223" y="412" width="1" height="19"/><rect x="230" y="429" width="14" height="1"/><rect x="236" y="420" width="1" height="19"/><rect x="243" y="419" width="12" height="1"/><rect x="248" y="410" width="1" height="19"/><rect x="254" y="411" width="15" height="1"/><rect x="261" y="402" width="1" height="19"/><rect x="268" y="419" width="13" height="1"/><rect x="273" y="410" width="1" height="19"/><rect x="280" y="409" width="12" height="1"/><rect x="285" y="400" width="1" height="19"/><rect x="291" y="415" width="13" height="1"/><rect x="297" y="406" width="1" height="19"/><rect x="303" y="424" width="12" height="1"/><rect x="308" y="415" width="1" height="19"/><rect x="314" y="414" width="13" height="1"/><rect x="319" y="405" width="1" height="19"/><rect x="326" y="415" width="11" height="1"/><rect x="331" y="406" width="1" height="19"/><rect x="336" y="418" width="12" height="1"/><rect x="342" y="409" width="1" height="19"/><rect x="347" y="411" width="11" height="1"/><rect x="352" y="402" width="1" height="19"/><rect x="357" y="420" width="11" height="1"/><rect x="362" y="411" width="1" height="19"/><rect x="367" y="425" width="13" height="1"/><rect x="373" y="416" width="1" height="19"/><rect x="379" y="422" width="10" height="1"/><rect x="383" y="413" width="1" height="19"/><rect x="388" y="425" width="10" height="1"/><rect x="392" y="416" width="1" height="19"/><rect x="397" y="422" width="9" height="1"/><rect x="400" y="413" width="1" height="19"/><rect x="405" y="424" width="8" height="1"/><rect x="408" y="415" width="1" height="19"/><rect x="412" y="422" width="10" height="1"/><rect x="416" y="413" width="1" height="19"/><rect x="421" y="424" width="8" height="1"/><rect x="424" y="415" width="1" height="19"/><rect x="428" y="418" width="9" height="1"/><rect x="431" y="409" width="1" height="19"/><rect x="436" y="431" width="8" height="1"/><rect x="439" y="422" width="1" height="19"/><rect x="443" y="411" width="8" height="1"/><rect x="446" y="402" width="1" height="19"/><rect x="450" y="410" width="9" height="1"/><rect x="454" y="401" width="1" height="19"/><rect x="458" y="421" width="7" height="1"/><rect x="461" y="412" width="1" height="19"/><rect x="464" y="411" width="9" height="1"/><rect x="468" y="402" width="1" height="19"/><rect x="472" y="422" width="9" height="1"/><rect x="476" y="413" width="1" height="19"/><rect x="480" y="417" width="8" height="1"/><rect x="483" y="408" width="1" height="19"/><rect x="487" y="424" width="7" height="1"/><rect x="490" y="415" width="1" height="19"/><rect x="493" y="419" width="9" height="1"/><rect x="497" y="410" width="1" height="19"/><rect x="501" y="432" width="7" height="1"/><rect x="504" y="423" width="1" height="19"/><rect x="507" y="432" width="8" height="1"/><rect x="510" y="423" width="1" height="19"/><rect x="514" y="412" width="7" height="1"/><rect x="517" y="403" width="1" height="19"/><rect x="520" y="401" width="8" height="1"/><rect x="524" y="392" width="1" height="19"/><rect x="527" y="422" width="8" height="1"/><rect x="530" y="413" width="1" height="19"/><rect x="534" y="428" width="8" height="1"/><rect x="537" y="419" width="1" height="19"/><rect x="541" y="429" width="8" height="1"/><rect x="544" y="420" width="1" height="19"/><rect x="548" y="418" width="7" height="1"/><rect x="550" y="409" width="1" height="19"/><rect x="554" y="429" width="8" height="1"/><rect x="557" y="420" width="1" height="19"/><rect x="561" y="426" width="7" height="1"/><rect x="563" y="417" width="1" height="19"/><rect x="567" y="427" width="8" height="1"/><rect x="569" y="418" width="1" height="19"/></g>
<g fill="#ffff00"><rect x="561" y="46" width="7" height="1"/><rect x="564" y="43" width="1" height="7"/></g>
<g fill="#ffffff"><g fill="#ffffff"><rect x="563" y="55" width="3" height="1"/><rect x="562" y="56" width="1" height="1"/><rect x="566" y="56" width="1" height="1"/><rect x="561" y="57" width="1" height="1"/><rect x="567" y="57" width="1" height="1"/><rect x="561" y="58" width="1" height="1"/><rect x="567" y="58" width="1" height="1"/><rect x="561" y="59" width="1" height="1"/><rect x="567" y="59" width="1" height="1"/><rect x="562" y="60" width="1" height="1"/><rect x="566" y="60" width="1" height="1"/><rect x="563" y="61" width="3" height="1"/></g></g>
<g fill="#ffffff"><rect x="561.5" y="67.5" width="6" height="6" fill="none" stroke="#ffffff" stroke-width="1"/></g>
<g fill="#ff0000"><path d="M564.5 79.5 l3 3 l-3 3 l-3 -3 z" fill="none" stroke="#ff0000" stroke-width="1"/></g>
<defs><filter id="gs" x="0" y="0" width="600" height="526" filterUnits="userSpaceOnUse" color-interpolation-filters="sRGB"><feColorMatrix type="saturate" values="0"/><feComponentTransfer><feFuncA type="discrete" tableValues="0 0 0 0 0 0 0 0 0 1 1 1 1 1 1 1 1 1 1 1"/><feFuncR type="discrete" tableValues="1 1"/><feFuncG type="discrete" tableValues="1 1"/><feFuncB type="discrete" tableValues="1 1"/></feComponentTransfer></filter></defs>
<g fill="#fff" filter="url(#gs)" shape-rendering="auto" font-family="'Liberation Sans',sans-serif"><text x="471" y="21.2" font-size="8.5" text-anchor="start" textLength="99" lengthAdjust="spacingAndGlyphs">Times: −30.577: 28.768 s</text><text x="52.8" y="63.3" font-size="11" textLength="11.5" lengthAdjust="spacingAndGlyphs">10</text><text x="64.8" y="58.2" font-size="7.5">0</text><text x="49.0" y="129.8" font-size="11" textLength="11.5" lengthAdjust="spacingAndGlyphs">10</text><text x="61.0" y="124.7" font-size="7.5">−2</text><text x="49.0" y="196.3" font-size="11" textLength="11.5" lengthAdjust="spacingAndGlyphs">10</text><text x="61.0" y="191.2" font-size="7.5">−4</text><text x="49.0" y="262.8" font-size="11" textLength="11.5" lengthAdjust="spacingAndGlyphs">10</text><text x="61.0" y="257.7" font-size="7.5">−6</text><text x="49.0" y="329.3" font-size="11" textLength="11.5" lengthAdjust="spacingAndGlyphs">10</text><text x="61.0" y="324.2" font-size="7.5">−8</text><text x="69.5" y="374.5" font-size="10" text-anchor="end" >6</text><text x="69.5" y="389.5" font-size="10" text-anchor="end" >4</text><text x="69.5" y="407.0" font-size="10" text-anchor="end" >2</text><text x="69.5" y="424.5" font-size="10" text-anchor="end" >0</text><text x="69.5" y="442.0" font-size="10" text-anchor="end" >−2</text><text x="69.5" y="459.5" font-size="10" text-anchor="end" >−4</text><text x="69.5" y="472.7" font-size="10" text-anchor="end" >−6</text><text x="148.5" y="488.5" font-size="10.5" text-anchor="middle" >10</text><text x="568" y="488.5" font-size="10.5" text-anchor="middle" >100</text><text x="296" y="501.3" font-size="10" text-anchor="start" textLength="62.5" lengthAdjust="spacingAndGlyphs">Energy (keV)</text><text transform="translate(46,435) rotate(-90)" font-size="10" textLength="29" lengthAdjust="spacingAndGlyphs">Sigma</text><text transform="translate(39,265) rotate(-90)" font-size="10" textLength="129" lengthAdjust="spacingAndGlyphs">Rate (counts s<tspan dy="-4" font-size="7">−1</tspan><tspan dy="4"> keV</tspan><tspan dy="-4" font-size="7">−1</tspan><tspan dy="4">)</tspan></text><text x="524" y="49.8" font-size="9" text-anchor="start" textLength="32" lengthAdjust="spacingAndGlyphs">NAI_00</text><text x="524" y="61.9" font-size="9" text-anchor="start" textLength="32" lengthAdjust="spacingAndGlyphs">NAI_01</text><text x="524" y="74.0" font-size="9" text-anchor="start" textLength="32" lengthAdjust="spacingAndGlyphs">NAI_03</text><text x="524" y="86.1" font-size="9" text-anchor="start" textLength="32" lengthAdjust="spacingAndGlyphs">NAI_04</text></g>
</svg>
</body></html>
